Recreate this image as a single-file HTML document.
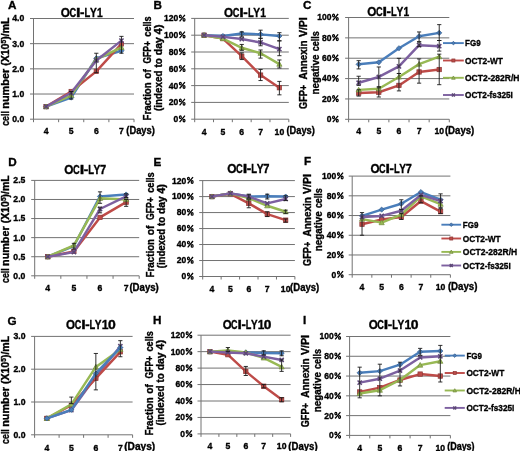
<!DOCTYPE html>
<html><head><meta charset="utf-8"><style>
html,body{margin:0;padding:0;background:#fff;width:520px;height:451px;overflow:hidden}
svg{display:block;filter:blur(0.35px)}
text{font-family:"Liberation Sans", sans-serif;font-weight:bold;fill:#000;stroke:#000;stroke-width:0.35px;white-space:pre}
</style></head><body>
<svg width="520" height="451" viewBox="0 0 520 451">
<rect width="520" height="451" fill="#fff"/>
<line x1="30.00" y1="94.03" x2="134.00" y2="94.03" stroke="#727272" stroke-width="1"/>
<line x1="30.00" y1="68.85" x2="134.00" y2="68.85" stroke="#727272" stroke-width="1"/>
<line x1="30.00" y1="43.67" x2="134.00" y2="43.67" stroke="#727272" stroke-width="1"/>
<line x1="30.00" y1="18.50" x2="134.00" y2="18.50" stroke="#727272" stroke-width="1"/>
<line x1="33.50" y1="18.50" x2="33.50" y2="119.20" stroke="#727272" stroke-width="1"/>
<line x1="30.00" y1="119.20" x2="134.00" y2="119.20" stroke="#727272" stroke-width="1"/>
<line x1="33.50" y1="119.20" x2="33.50" y2="122.20" stroke="#727272" stroke-width="1"/>
<line x1="58.62" y1="119.20" x2="58.62" y2="122.20" stroke="#727272" stroke-width="1"/>
<line x1="83.75" y1="119.20" x2="83.75" y2="122.20" stroke="#727272" stroke-width="1"/>
<line x1="108.88" y1="119.20" x2="108.88" y2="122.20" stroke="#727272" stroke-width="1"/>
<line x1="134.00" y1="119.20" x2="134.00" y2="122.20" stroke="#727272" stroke-width="1"/>
<text x="24.30" y="122.10" font-size="9.0" text-anchor="end" textLength="12.04" lengthAdjust="spacingAndGlyphs">0.0</text>
<text x="24.30" y="96.93" font-size="9.0" text-anchor="end" textLength="12.04" lengthAdjust="spacingAndGlyphs">1.0</text>
<text x="24.30" y="71.75" font-size="9.0" text-anchor="end" textLength="12.04" lengthAdjust="spacingAndGlyphs">2.0</text>
<text x="24.30" y="46.57" font-size="9.0" text-anchor="end" textLength="12.04" lengthAdjust="spacingAndGlyphs">3.0</text>
<text x="24.30" y="21.40" font-size="9.0" text-anchor="end" textLength="12.04" lengthAdjust="spacingAndGlyphs">4.0</text>
<text x="46.06" y="134.20" font-size="9.0" text-anchor="middle" textLength="4.82" lengthAdjust="spacingAndGlyphs">4</text>
<text x="71.19" y="134.20" font-size="9.0" text-anchor="middle" textLength="4.82" lengthAdjust="spacingAndGlyphs">5</text>
<text x="96.31" y="134.20" font-size="9.0" text-anchor="middle" textLength="4.82" lengthAdjust="spacingAndGlyphs">6</text>
<text x="121.44" y="134.20" font-size="9.0" text-anchor="middle" textLength="4.82" lengthAdjust="spacingAndGlyphs">7</text>
<text x="126.30" y="133.60" font-size="10" textLength="28.50" lengthAdjust="spacingAndGlyphs">(Days)</text>
<polyline points="46.06,106.61 71.19,97.55 96.31,58.28 121.44,50.72" fill="none" stroke="#4a7ebb" stroke-width="2.45" stroke-linejoin="round"/>
<path d="M46.06,104.01L48.66,106.61L46.06,109.21L43.46,106.61Z" fill="#4a7ebb" stroke="#385d8a" stroke-width="0.7"/>
<path d="M71.19,94.95L73.79,97.55L71.19,100.15L68.59,97.55Z" fill="#4a7ebb" stroke="#385d8a" stroke-width="0.7"/>
<path d="M96.31,55.68L98.91,58.28L96.31,60.88L93.71,58.28Z" fill="#4a7ebb" stroke="#385d8a" stroke-width="0.7"/>
<path d="M121.44,48.12L124.04,50.72L121.44,53.32L118.84,50.72Z" fill="#4a7ebb" stroke="#385d8a" stroke-width="0.7"/>
<polyline points="46.06,106.61 71.19,91.51 96.31,71.37 121.44,43.93" fill="none" stroke="#be4b48" stroke-width="2.45" stroke-linejoin="round"/>
<rect x="43.86" y="104.41" width="4.40" height="4.40" fill="#be4b48" stroke="#8c3836" stroke-width="0.7"/>
<rect x="68.99" y="89.31" width="4.40" height="4.40" fill="#be4b48" stroke="#8c3836" stroke-width="0.7"/>
<rect x="94.11" y="69.17" width="4.40" height="4.40" fill="#be4b48" stroke="#8c3836" stroke-width="0.7"/>
<rect x="119.24" y="41.73" width="4.40" height="4.40" fill="#be4b48" stroke="#8c3836" stroke-width="0.7"/>
<polyline points="46.06,106.61 71.19,95.28 96.31,59.28 121.44,47.45" fill="none" stroke="#98b954" stroke-width="2.45" stroke-linejoin="round"/>
<path d="M46.06,104.01L48.66,108.69L43.46,108.69Z" fill="#98b954" stroke="#71893f" stroke-width="0.7"/>
<path d="M71.19,92.68L73.79,97.36L68.59,97.36Z" fill="#98b954" stroke="#71893f" stroke-width="0.7"/>
<path d="M96.31,56.68L98.91,61.36L93.71,61.36Z" fill="#98b954" stroke="#71893f" stroke-width="0.7"/>
<path d="M121.44,44.85L124.04,49.53L118.84,49.53Z" fill="#98b954" stroke="#71893f" stroke-width="0.7"/>
<polyline points="46.06,106.61 71.19,92.77 96.31,60.54 121.44,40.65" fill="none" stroke="#7d60a0" stroke-width="2.45" stroke-linejoin="round"/>
<path d="M43.96,104.51L48.16,108.71M48.16,104.51L43.96,108.71" stroke="#5c4776" stroke-width="1.5"/>
<path d="M69.09,90.67L73.29,94.87M73.29,90.67L69.09,94.87" stroke="#5c4776" stroke-width="1.5"/>
<path d="M94.21,58.44L98.41,62.64M98.41,58.44L94.21,62.64" stroke="#5c4776" stroke-width="1.5"/>
<path d="M119.34,38.55L123.54,42.75M123.54,38.55L119.34,42.75" stroke="#5c4776" stroke-width="1.5"/>
<path d="M71.19,99.06V91.51M69.09,99.06h4.2M69.09,91.51h4.2" stroke="#1a1a1a" stroke-width="0.9" fill="none"/>
<path d="M96.31,72.63V53.24M94.21,72.63h4.2M94.21,53.24h4.2" stroke="#1a1a1a" stroke-width="0.9" fill="none"/>
<path d="M121.44,53.24V36.37M119.34,53.24h4.2M119.34,36.37h4.2" stroke="#1a1a1a" stroke-width="0.9" fill="none"/>
<text transform="translate(60.82,16.60) scale(0.948,1)" font-size="12.4">O</text>
<text transform="translate(69.50,16.60) scale(0.745,1)" font-size="12.4">C</text>
<text transform="translate(76.10,16.60) scale(1.307,1)" font-size="12.4">I</text>
<text transform="translate(80.11,16.60) scale(1.080,1)" font-size="12.4">-</text>
<text transform="translate(84.62,16.60) scale(0.757,1)" font-size="12.4">L</text>
<text transform="translate(89.90,16.60) scale(0.820,1)" font-size="12.4">Y</text>
<text transform="translate(97.08,16.60) scale(0.827,1)" font-size="12.4">1</text>
<text x="8.00" y="8.70" font-size="11.7">A</text>
<line x1="191.20" y1="102.40" x2="288.80" y2="102.40" stroke="#727272" stroke-width="1"/>
<line x1="191.20" y1="85.60" x2="288.80" y2="85.60" stroke="#727272" stroke-width="1"/>
<line x1="191.20" y1="68.80" x2="288.80" y2="68.80" stroke="#727272" stroke-width="1"/>
<line x1="191.20" y1="52.00" x2="288.80" y2="52.00" stroke="#727272" stroke-width="1"/>
<line x1="191.20" y1="35.20" x2="288.80" y2="35.20" stroke="#727272" stroke-width="1"/>
<line x1="191.20" y1="18.40" x2="288.80" y2="18.40" stroke="#727272" stroke-width="1"/>
<line x1="194.70" y1="18.40" x2="194.70" y2="119.20" stroke="#727272" stroke-width="1"/>
<line x1="191.20" y1="119.20" x2="288.80" y2="119.20" stroke="#727272" stroke-width="1"/>
<line x1="194.70" y1="119.20" x2="194.70" y2="122.20" stroke="#727272" stroke-width="1"/>
<line x1="213.52" y1="119.20" x2="213.52" y2="122.20" stroke="#727272" stroke-width="1"/>
<line x1="232.34" y1="119.20" x2="232.34" y2="122.20" stroke="#727272" stroke-width="1"/>
<line x1="251.16" y1="119.20" x2="251.16" y2="122.20" stroke="#727272" stroke-width="1"/>
<line x1="269.98" y1="119.20" x2="269.98" y2="122.20" stroke="#727272" stroke-width="1"/>
<line x1="288.80" y1="119.20" x2="288.80" y2="122.20" stroke="#727272" stroke-width="1"/>
<path d="M179.60,122.10L184.90,115.70" stroke="#000" stroke-width="1.3" fill="none"/><ellipse cx="180.35" cy="117.20" rx="0.95" ry="1.3" stroke="#000" stroke-width="1.2" fill="none"/><ellipse cx="184.05" cy="120.60" rx="0.95" ry="1.3" stroke="#000" stroke-width="1.2" fill="none"/>
<text x="178.20" y="122.10" font-size="9.0" text-anchor="end" textLength="4.75" lengthAdjust="spacingAndGlyphs">0</text>
<path d="M179.60,105.30L184.90,98.90" stroke="#000" stroke-width="1.3" fill="none"/><ellipse cx="180.35" cy="100.40" rx="0.95" ry="1.3" stroke="#000" stroke-width="1.2" fill="none"/><ellipse cx="184.05" cy="103.80" rx="0.95" ry="1.3" stroke="#000" stroke-width="1.2" fill="none"/>
<text x="178.20" y="105.30" font-size="9.0" text-anchor="end" textLength="9.50" lengthAdjust="spacingAndGlyphs">20</text>
<path d="M179.60,88.50L184.90,82.10" stroke="#000" stroke-width="1.3" fill="none"/><ellipse cx="180.35" cy="83.60" rx="0.95" ry="1.3" stroke="#000" stroke-width="1.2" fill="none"/><ellipse cx="184.05" cy="87.00" rx="0.95" ry="1.3" stroke="#000" stroke-width="1.2" fill="none"/>
<text x="178.20" y="88.50" font-size="9.0" text-anchor="end" textLength="9.50" lengthAdjust="spacingAndGlyphs">40</text>
<path d="M179.60,71.70L184.90,65.30" stroke="#000" stroke-width="1.3" fill="none"/><ellipse cx="180.35" cy="66.80" rx="0.95" ry="1.3" stroke="#000" stroke-width="1.2" fill="none"/><ellipse cx="184.05" cy="70.20" rx="0.95" ry="1.3" stroke="#000" stroke-width="1.2" fill="none"/>
<text x="178.20" y="71.70" font-size="9.0" text-anchor="end" textLength="9.50" lengthAdjust="spacingAndGlyphs">60</text>
<path d="M179.60,54.90L184.90,48.50" stroke="#000" stroke-width="1.3" fill="none"/><ellipse cx="180.35" cy="50.00" rx="0.95" ry="1.3" stroke="#000" stroke-width="1.2" fill="none"/><ellipse cx="184.05" cy="53.40" rx="0.95" ry="1.3" stroke="#000" stroke-width="1.2" fill="none"/>
<text x="178.20" y="54.90" font-size="9.0" text-anchor="end" textLength="9.50" lengthAdjust="spacingAndGlyphs">80</text>
<path d="M179.60,38.10L184.90,31.70" stroke="#000" stroke-width="1.3" fill="none"/><ellipse cx="180.35" cy="33.20" rx="0.95" ry="1.3" stroke="#000" stroke-width="1.2" fill="none"/><ellipse cx="184.05" cy="36.60" rx="0.95" ry="1.3" stroke="#000" stroke-width="1.2" fill="none"/>
<text x="178.20" y="38.10" font-size="9.0" text-anchor="end" textLength="14.25" lengthAdjust="spacingAndGlyphs">100</text>
<path d="M179.60,21.30L184.90,14.90" stroke="#000" stroke-width="1.3" fill="none"/><ellipse cx="180.35" cy="16.40" rx="0.95" ry="1.3" stroke="#000" stroke-width="1.2" fill="none"/><ellipse cx="184.05" cy="19.80" rx="0.95" ry="1.3" stroke="#000" stroke-width="1.2" fill="none"/>
<text x="178.20" y="21.30" font-size="9.0" text-anchor="end" textLength="14.25" lengthAdjust="spacingAndGlyphs">120</text>
<text x="204.11" y="134.60" font-size="9.0" text-anchor="middle" textLength="4.82" lengthAdjust="spacingAndGlyphs">4</text>
<text x="222.93" y="134.60" font-size="9.0" text-anchor="middle" textLength="4.82" lengthAdjust="spacingAndGlyphs">5</text>
<text x="241.75" y="134.60" font-size="9.0" text-anchor="middle" textLength="4.82" lengthAdjust="spacingAndGlyphs">6</text>
<text x="260.57" y="134.60" font-size="9.0" text-anchor="middle" textLength="4.82" lengthAdjust="spacingAndGlyphs">7</text>
<text x="279.39" y="134.60" font-size="9.0" text-anchor="middle" textLength="9.64" lengthAdjust="spacingAndGlyphs">10</text>
<text x="286.50" y="133.80" font-size="10" textLength="28.30" lengthAdjust="spacingAndGlyphs">(Days)</text>
<polyline points="204.11,35.20 222.93,36.04 241.75,33.52 260.57,34.36 279.39,36.04" fill="none" stroke="#4a7ebb" stroke-width="2.45" stroke-linejoin="round"/>
<path d="M204.11,32.60L206.71,35.20L204.11,37.80L201.51,35.20Z" fill="#4a7ebb" stroke="#385d8a" stroke-width="0.7"/>
<path d="M222.93,33.44L225.53,36.04L222.93,38.64L220.33,36.04Z" fill="#4a7ebb" stroke="#385d8a" stroke-width="0.7"/>
<path d="M241.75,30.92L244.35,33.52L241.75,36.12L239.15,33.52Z" fill="#4a7ebb" stroke="#385d8a" stroke-width="0.7"/>
<path d="M260.57,31.76L263.17,34.36L260.57,36.96L257.97,34.36Z" fill="#4a7ebb" stroke="#385d8a" stroke-width="0.7"/>
<path d="M279.39,33.44L281.99,36.04L279.39,38.64L276.79,36.04Z" fill="#4a7ebb" stroke="#385d8a" stroke-width="0.7"/>
<polyline points="204.11,35.20 222.93,38.56 241.75,56.20 260.57,75.10 279.39,87.70" fill="none" stroke="#be4b48" stroke-width="2.45" stroke-linejoin="round"/>
<rect x="201.91" y="33.00" width="4.40" height="4.40" fill="#be4b48" stroke="#8c3836" stroke-width="0.7"/>
<rect x="220.73" y="36.36" width="4.40" height="4.40" fill="#be4b48" stroke="#8c3836" stroke-width="0.7"/>
<rect x="239.55" y="54.00" width="4.40" height="4.40" fill="#be4b48" stroke="#8c3836" stroke-width="0.7"/>
<rect x="258.37" y="72.90" width="4.40" height="4.40" fill="#be4b48" stroke="#8c3836" stroke-width="0.7"/>
<rect x="277.19" y="85.50" width="4.40" height="4.40" fill="#be4b48" stroke="#8c3836" stroke-width="0.7"/>
<polyline points="204.11,35.20 222.93,38.56 241.75,47.80 260.57,53.26 279.39,64.18" fill="none" stroke="#98b954" stroke-width="2.45" stroke-linejoin="round"/>
<path d="M204.11,32.60L206.71,37.28L201.51,37.28Z" fill="#98b954" stroke="#71893f" stroke-width="0.7"/>
<path d="M222.93,35.96L225.53,40.64L220.33,40.64Z" fill="#98b954" stroke="#71893f" stroke-width="0.7"/>
<path d="M241.75,45.20L244.35,49.88L239.15,49.88Z" fill="#98b954" stroke="#71893f" stroke-width="0.7"/>
<path d="M260.57,50.66L263.17,55.34L257.97,55.34Z" fill="#98b954" stroke="#71893f" stroke-width="0.7"/>
<path d="M279.39,61.58L281.99,66.26L276.79,66.26Z" fill="#98b954" stroke="#71893f" stroke-width="0.7"/>
<polyline points="204.11,35.20 222.93,36.88 241.75,39.06 260.57,42.42 279.39,49.06" fill="none" stroke="#7d60a0" stroke-width="2.45" stroke-linejoin="round"/>
<path d="M202.01,33.10L206.21,37.30M206.21,33.10L202.01,37.30" stroke="#5c4776" stroke-width="1.5"/>
<path d="M220.83,34.78L225.03,38.98M225.03,34.78L220.83,38.98" stroke="#5c4776" stroke-width="1.5"/>
<path d="M239.65,36.96L243.85,41.16M243.85,36.96L239.65,41.16" stroke="#5c4776" stroke-width="1.5"/>
<path d="M258.47,40.32L262.67,44.52M262.67,40.32L258.47,44.52" stroke="#5c4776" stroke-width="1.5"/>
<path d="M277.29,46.96L281.49,51.16M281.49,46.96L277.29,51.16" stroke="#5c4776" stroke-width="1.5"/>
<path d="M241.75,59.56V52.84M239.65,59.56h4.2M239.65,52.84h4.2" stroke="#1a1a1a" stroke-width="0.9" fill="none"/>
<path d="M241.75,36.88V31.84M239.65,36.88h4.2M239.65,31.84h4.2" stroke="#1a1a1a" stroke-width="0.9" fill="none"/>
<path d="M241.75,50.32V44.44M239.65,50.32h4.2M239.65,44.44h4.2" stroke="#1a1a1a" stroke-width="0.9" fill="none"/>
<path d="M260.57,38.31V30.16M258.47,38.31h4.2M258.47,30.16h4.2" stroke="#1a1a1a" stroke-width="0.9" fill="none"/>
<path d="M260.57,45.78V38.31M258.47,45.78h4.2M258.47,38.31h4.2" stroke="#1a1a1a" stroke-width="0.9" fill="none"/>
<path d="M260.57,80.56V69.47M258.47,80.56h4.2M258.47,69.47h4.2" stroke="#1a1a1a" stroke-width="0.9" fill="none"/>
<path d="M260.57,58.13V49.98M258.47,58.13h4.2M258.47,49.98h4.2" stroke="#1a1a1a" stroke-width="0.9" fill="none"/>
<path d="M279.39,40.83V32.68M277.29,40.83h4.2M277.29,32.68h4.2" stroke="#1a1a1a" stroke-width="0.9" fill="none"/>
<path d="M279.39,55.70V40.83M277.29,55.70h4.2M277.29,40.83h4.2" stroke="#1a1a1a" stroke-width="0.9" fill="none"/>
<path d="M279.39,94.84V81.40M277.29,94.84h4.2M277.29,81.40h4.2" stroke="#1a1a1a" stroke-width="0.9" fill="none"/>
<path d="M279.39,67.96V59.98M277.29,67.96h4.2M277.29,59.98h4.2" stroke="#1a1a1a" stroke-width="0.9" fill="none"/>
<text transform="translate(224.02,16.60) scale(0.950,1)" font-size="12.4">O</text>
<text transform="translate(232.72,16.60) scale(0.747,1)" font-size="12.4">C</text>
<text transform="translate(239.33,16.60) scale(1.310,1)" font-size="12.4">I</text>
<text transform="translate(243.35,16.60) scale(1.082,1)" font-size="12.4">-</text>
<text transform="translate(247.88,16.60) scale(0.759,1)" font-size="12.4">L</text>
<text transform="translate(253.16,16.60) scale(0.822,1)" font-size="12.4">Y</text>
<text transform="translate(260.37,16.60) scale(0.829,1)" font-size="12.4">1</text>
<text x="153.60" y="8.90" font-size="11.7">B</text>
<line x1="345.10" y1="98.94" x2="449.30" y2="98.94" stroke="#727272" stroke-width="1"/>
<line x1="345.10" y1="78.58" x2="449.30" y2="78.58" stroke="#727272" stroke-width="1"/>
<line x1="345.10" y1="58.22" x2="449.30" y2="58.22" stroke="#727272" stroke-width="1"/>
<line x1="345.10" y1="37.86" x2="449.30" y2="37.86" stroke="#727272" stroke-width="1"/>
<line x1="345.10" y1="17.50" x2="449.30" y2="17.50" stroke="#727272" stroke-width="1"/>
<line x1="348.60" y1="17.50" x2="348.60" y2="119.30" stroke="#727272" stroke-width="1"/>
<line x1="345.10" y1="119.30" x2="449.30" y2="119.30" stroke="#727272" stroke-width="1"/>
<line x1="348.60" y1="119.30" x2="348.60" y2="122.30" stroke="#727272" stroke-width="1"/>
<line x1="368.74" y1="119.30" x2="368.74" y2="122.30" stroke="#727272" stroke-width="1"/>
<line x1="388.88" y1="119.30" x2="388.88" y2="122.30" stroke="#727272" stroke-width="1"/>
<line x1="409.02" y1="119.30" x2="409.02" y2="122.30" stroke="#727272" stroke-width="1"/>
<line x1="429.16" y1="119.30" x2="429.16" y2="122.30" stroke="#727272" stroke-width="1"/>
<line x1="449.30" y1="119.30" x2="449.30" y2="122.30" stroke="#727272" stroke-width="1"/>
<path d="M332.80,122.20L338.10,115.80" stroke="#000" stroke-width="1.3" fill="none"/><ellipse cx="333.55" cy="117.30" rx="0.95" ry="1.3" stroke="#000" stroke-width="1.2" fill="none"/><ellipse cx="337.25" cy="120.70" rx="0.95" ry="1.3" stroke="#000" stroke-width="1.2" fill="none"/>
<text x="331.40" y="122.20" font-size="9.0" text-anchor="end" textLength="4.75" lengthAdjust="spacingAndGlyphs">0</text>
<path d="M332.80,101.84L338.10,95.44" stroke="#000" stroke-width="1.3" fill="none"/><ellipse cx="333.55" cy="96.94" rx="0.95" ry="1.3" stroke="#000" stroke-width="1.2" fill="none"/><ellipse cx="337.25" cy="100.34" rx="0.95" ry="1.3" stroke="#000" stroke-width="1.2" fill="none"/>
<text x="331.40" y="101.84" font-size="9.0" text-anchor="end" textLength="9.50" lengthAdjust="spacingAndGlyphs">20</text>
<path d="M332.80,81.48L338.10,75.08" stroke="#000" stroke-width="1.3" fill="none"/><ellipse cx="333.55" cy="76.58" rx="0.95" ry="1.3" stroke="#000" stroke-width="1.2" fill="none"/><ellipse cx="337.25" cy="79.98" rx="0.95" ry="1.3" stroke="#000" stroke-width="1.2" fill="none"/>
<text x="331.40" y="81.48" font-size="9.0" text-anchor="end" textLength="9.50" lengthAdjust="spacingAndGlyphs">40</text>
<path d="M332.80,61.12L338.10,54.72" stroke="#000" stroke-width="1.3" fill="none"/><ellipse cx="333.55" cy="56.22" rx="0.95" ry="1.3" stroke="#000" stroke-width="1.2" fill="none"/><ellipse cx="337.25" cy="59.62" rx="0.95" ry="1.3" stroke="#000" stroke-width="1.2" fill="none"/>
<text x="331.40" y="61.12" font-size="9.0" text-anchor="end" textLength="9.50" lengthAdjust="spacingAndGlyphs">60</text>
<path d="M332.80,40.76L338.10,34.36" stroke="#000" stroke-width="1.3" fill="none"/><ellipse cx="333.55" cy="35.86" rx="0.95" ry="1.3" stroke="#000" stroke-width="1.2" fill="none"/><ellipse cx="337.25" cy="39.26" rx="0.95" ry="1.3" stroke="#000" stroke-width="1.2" fill="none"/>
<text x="331.40" y="40.76" font-size="9.0" text-anchor="end" textLength="9.50" lengthAdjust="spacingAndGlyphs">80</text>
<path d="M332.80,20.40L338.10,14.00" stroke="#000" stroke-width="1.3" fill="none"/><ellipse cx="333.55" cy="15.50" rx="0.95" ry="1.3" stroke="#000" stroke-width="1.2" fill="none"/><ellipse cx="337.25" cy="18.90" rx="0.95" ry="1.3" stroke="#000" stroke-width="1.2" fill="none"/>
<text x="331.40" y="20.40" font-size="9.0" text-anchor="end" textLength="14.25" lengthAdjust="spacingAndGlyphs">100</text>
<text x="358.67" y="134.30" font-size="9.0" text-anchor="middle" textLength="4.82" lengthAdjust="spacingAndGlyphs">4</text>
<text x="378.81" y="134.30" font-size="9.0" text-anchor="middle" textLength="4.82" lengthAdjust="spacingAndGlyphs">5</text>
<text x="398.95" y="134.30" font-size="9.0" text-anchor="middle" textLength="4.82" lengthAdjust="spacingAndGlyphs">6</text>
<text x="419.09" y="134.30" font-size="9.0" text-anchor="middle" textLength="4.82" lengthAdjust="spacingAndGlyphs">7</text>
<text x="439.23" y="134.30" font-size="9.0" text-anchor="middle" textLength="9.64" lengthAdjust="spacingAndGlyphs">10</text>
<text x="444.90" y="133.60" font-size="10" textLength="29.40" lengthAdjust="spacingAndGlyphs">(Days)</text>
<polyline points="358.67,64.33 378.81,62.29 398.95,48.24 419.09,36.23 439.23,32.87" fill="none" stroke="#4a7ebb" stroke-width="2.45" stroke-linejoin="round"/>
<path d="M358.67,61.73L361.27,64.33L358.67,66.93L356.07,64.33Z" fill="#4a7ebb" stroke="#385d8a" stroke-width="0.7"/>
<path d="M378.81,59.69L381.41,62.29L378.81,64.89L376.21,62.29Z" fill="#4a7ebb" stroke="#385d8a" stroke-width="0.7"/>
<path d="M398.95,45.64L401.55,48.24L398.95,50.84L396.35,48.24Z" fill="#4a7ebb" stroke="#385d8a" stroke-width="0.7"/>
<path d="M419.09,33.63L421.69,36.23L419.09,38.83L416.49,36.23Z" fill="#4a7ebb" stroke="#385d8a" stroke-width="0.7"/>
<path d="M439.23,30.27L441.83,32.87L439.23,35.47L436.63,32.87Z" fill="#4a7ebb" stroke="#385d8a" stroke-width="0.7"/>
<polyline points="358.67,93.04 378.81,92.22 398.95,85.40 419.09,71.96 439.23,69.52" fill="none" stroke="#be4b48" stroke-width="2.45" stroke-linejoin="round"/>
<rect x="356.47" y="90.84" width="4.40" height="4.40" fill="#be4b48" stroke="#8c3836" stroke-width="0.7"/>
<rect x="376.61" y="90.02" width="4.40" height="4.40" fill="#be4b48" stroke="#8c3836" stroke-width="0.7"/>
<rect x="396.75" y="83.20" width="4.40" height="4.40" fill="#be4b48" stroke="#8c3836" stroke-width="0.7"/>
<rect x="416.89" y="69.76" width="4.40" height="4.40" fill="#be4b48" stroke="#8c3836" stroke-width="0.7"/>
<rect x="437.03" y="67.32" width="4.40" height="4.40" fill="#be4b48" stroke="#8c3836" stroke-width="0.7"/>
<polyline points="358.67,89.88 378.81,88.76 398.95,76.95 419.09,64.12 439.23,56.69" fill="none" stroke="#98b954" stroke-width="2.45" stroke-linejoin="round"/>
<path d="M358.67,87.28L361.27,91.96L356.07,91.96Z" fill="#98b954" stroke="#71893f" stroke-width="0.7"/>
<path d="M378.81,86.16L381.41,90.84L376.21,90.84Z" fill="#98b954" stroke="#71893f" stroke-width="0.7"/>
<path d="M398.95,74.35L401.55,79.03L396.35,79.03Z" fill="#98b954" stroke="#71893f" stroke-width="0.7"/>
<path d="M419.09,61.52L421.69,66.20L416.49,66.20Z" fill="#98b954" stroke="#71893f" stroke-width="0.7"/>
<path d="M439.23,54.09L441.83,58.77L436.63,58.77Z" fill="#98b954" stroke="#71893f" stroke-width="0.7"/>
<polyline points="358.67,82.75 378.81,76.95 398.95,66.36 419.09,45.19 439.23,46.21" fill="none" stroke="#7d60a0" stroke-width="2.45" stroke-linejoin="round"/>
<path d="M356.57,80.65L360.77,84.85M360.77,80.65L356.57,84.85" stroke="#5c4776" stroke-width="1.5"/>
<path d="M376.71,74.85L380.91,79.05M380.91,74.85L376.71,79.05" stroke="#5c4776" stroke-width="1.5"/>
<path d="M396.85,64.26L401.05,68.46M401.05,64.26L396.85,68.46" stroke="#5c4776" stroke-width="1.5"/>
<path d="M416.99,43.09L421.19,47.29M421.19,43.09L416.99,47.29" stroke="#5c4776" stroke-width="1.5"/>
<path d="M437.13,44.11L441.33,48.31M441.33,44.11L437.13,48.31" stroke="#5c4776" stroke-width="1.5"/>
<path d="M358.67,68.91V60.66M356.57,68.91h4.2M356.57,60.66h4.2" stroke="#1a1a1a" stroke-width="0.9" fill="none"/>
<path d="M358.67,85.40V76.24M356.57,85.40h4.2M356.57,76.24h4.2" stroke="#1a1a1a" stroke-width="0.9" fill="none"/>
<path d="M358.67,96.09V89.78M356.57,96.09h4.2M356.57,89.78h4.2" stroke="#1a1a1a" stroke-width="0.9" fill="none"/>
<path d="M378.81,86.62V66.97M376.71,86.62h4.2M376.71,66.97h4.2" stroke="#1a1a1a" stroke-width="0.9" fill="none"/>
<path d="M378.81,97.01V87.74M376.71,97.01h4.2M376.71,87.74h4.2" stroke="#1a1a1a" stroke-width="0.9" fill="none"/>
<path d="M398.95,73.49V58.32M396.85,73.49h4.2M396.85,58.32h4.2" stroke="#1a1a1a" stroke-width="0.9" fill="none"/>
<path d="M398.95,90.90V73.49M396.85,90.90h4.2M396.85,73.49h4.2" stroke="#1a1a1a" stroke-width="0.9" fill="none"/>
<path d="M419.09,41.73V31.96M416.99,41.73h4.2M416.99,31.96h4.2" stroke="#1a1a1a" stroke-width="0.9" fill="none"/>
<path d="M419.09,46.72V41.93M416.99,46.72h4.2M416.99,41.93h4.2" stroke="#1a1a1a" stroke-width="0.9" fill="none"/>
<path d="M419.09,83.16V58.93M416.99,83.16h4.2M416.99,58.93h4.2" stroke="#1a1a1a" stroke-width="0.9" fill="none"/>
<path d="M439.23,40.51V24.63M437.13,40.51h4.2M437.13,24.63h4.2" stroke="#1a1a1a" stroke-width="0.9" fill="none"/>
<path d="M439.23,51.09V40.51M437.13,51.09h4.2M437.13,40.51h4.2" stroke="#1a1a1a" stroke-width="0.9" fill="none"/>
<path d="M439.23,84.69V54.15M437.13,84.69h4.2M437.13,54.15h4.2" stroke="#1a1a1a" stroke-width="0.9" fill="none"/>
<text transform="translate(367.32,16.40) scale(0.948,1)" font-size="12.4">O</text>
<text transform="translate(376.00,16.40) scale(0.745,1)" font-size="12.4">C</text>
<text transform="translate(382.60,16.40) scale(1.307,1)" font-size="12.4">I</text>
<text transform="translate(386.61,16.40) scale(1.080,1)" font-size="12.4">-</text>
<text transform="translate(391.12,16.40) scale(0.757,1)" font-size="12.4">L</text>
<text transform="translate(396.40,16.40) scale(0.820,1)" font-size="12.4">Y</text>
<text transform="translate(403.58,16.40) scale(0.827,1)" font-size="12.4">1</text>
<text x="303.00" y="8.50" font-size="11.7">C</text>
<line x1="31.20" y1="256.72" x2="139.20" y2="256.72" stroke="#727272" stroke-width="1"/>
<line x1="31.20" y1="237.64" x2="139.20" y2="237.64" stroke="#727272" stroke-width="1"/>
<line x1="31.20" y1="218.56" x2="139.20" y2="218.56" stroke="#727272" stroke-width="1"/>
<line x1="31.20" y1="199.48" x2="139.20" y2="199.48" stroke="#727272" stroke-width="1"/>
<line x1="31.20" y1="180.40" x2="139.20" y2="180.40" stroke="#727272" stroke-width="1"/>
<line x1="34.70" y1="180.40" x2="34.70" y2="275.80" stroke="#727272" stroke-width="1"/>
<line x1="31.20" y1="275.80" x2="139.20" y2="275.80" stroke="#727272" stroke-width="1"/>
<line x1="34.70" y1="275.80" x2="34.70" y2="278.80" stroke="#727272" stroke-width="1"/>
<line x1="60.83" y1="275.80" x2="60.83" y2="278.80" stroke="#727272" stroke-width="1"/>
<line x1="86.95" y1="275.80" x2="86.95" y2="278.80" stroke="#727272" stroke-width="1"/>
<line x1="113.07" y1="275.80" x2="113.07" y2="278.80" stroke="#727272" stroke-width="1"/>
<line x1="139.20" y1="275.80" x2="139.20" y2="278.80" stroke="#727272" stroke-width="1"/>
<text x="25.40" y="278.70" font-size="9.0" text-anchor="end" textLength="12.04" lengthAdjust="spacingAndGlyphs">0.0</text>
<text x="25.40" y="259.62" font-size="9.0" text-anchor="end" textLength="12.04" lengthAdjust="spacingAndGlyphs">0.5</text>
<text x="25.40" y="240.54" font-size="9.0" text-anchor="end" textLength="12.04" lengthAdjust="spacingAndGlyphs">1.0</text>
<text x="25.40" y="221.46" font-size="9.0" text-anchor="end" textLength="12.04" lengthAdjust="spacingAndGlyphs">1.5</text>
<text x="25.40" y="202.38" font-size="9.0" text-anchor="end" textLength="12.04" lengthAdjust="spacingAndGlyphs">2.0</text>
<text x="25.40" y="183.30" font-size="9.0" text-anchor="end" textLength="12.04" lengthAdjust="spacingAndGlyphs">2.5</text>
<text x="47.76" y="290.90" font-size="9.0" text-anchor="middle" textLength="4.82" lengthAdjust="spacingAndGlyphs">4</text>
<text x="73.89" y="290.90" font-size="9.0" text-anchor="middle" textLength="4.82" lengthAdjust="spacingAndGlyphs">5</text>
<text x="100.01" y="290.90" font-size="9.0" text-anchor="middle" textLength="4.82" lengthAdjust="spacingAndGlyphs">6</text>
<text x="126.14" y="290.90" font-size="9.0" text-anchor="middle" textLength="4.82" lengthAdjust="spacingAndGlyphs">7</text>
<text x="129.40" y="290.60" font-size="10" textLength="29.40" lengthAdjust="spacingAndGlyphs">(Days)</text>
<polyline points="47.76,256.72 73.89,246.04 100.01,196.43 126.14,194.52" fill="none" stroke="#4a7ebb" stroke-width="2.45" stroke-linejoin="round"/>
<path d="M47.76,254.12L50.36,256.72L47.76,259.32L45.16,256.72Z" fill="#4a7ebb" stroke="#385d8a" stroke-width="0.7"/>
<path d="M73.89,243.44L76.49,246.04L73.89,248.64L71.29,246.04Z" fill="#4a7ebb" stroke="#385d8a" stroke-width="0.7"/>
<path d="M100.01,193.83L102.61,196.43L100.01,199.03L97.41,196.43Z" fill="#4a7ebb" stroke="#385d8a" stroke-width="0.7"/>
<path d="M126.14,191.92L128.74,194.52L126.14,197.12L123.54,194.52Z" fill="#4a7ebb" stroke="#385d8a" stroke-width="0.7"/>
<polyline points="47.76,256.72 73.89,251.38 100.01,217.42 126.14,202.15" fill="none" stroke="#be4b48" stroke-width="2.45" stroke-linejoin="round"/>
<rect x="45.56" y="254.52" width="4.40" height="4.40" fill="#be4b48" stroke="#8c3836" stroke-width="0.7"/>
<rect x="71.69" y="249.18" width="4.40" height="4.40" fill="#be4b48" stroke="#8c3836" stroke-width="0.7"/>
<rect x="97.81" y="215.22" width="4.40" height="4.40" fill="#be4b48" stroke="#8c3836" stroke-width="0.7"/>
<rect x="123.94" y="199.95" width="4.40" height="4.40" fill="#be4b48" stroke="#8c3836" stroke-width="0.7"/>
<polyline points="47.76,256.72 73.89,245.27 100.01,198.34 126.14,199.48" fill="none" stroke="#98b954" stroke-width="2.45" stroke-linejoin="round"/>
<path d="M47.76,254.12L50.36,258.80L45.16,258.80Z" fill="#98b954" stroke="#71893f" stroke-width="0.7"/>
<path d="M73.89,242.67L76.49,247.35L71.29,247.35Z" fill="#98b954" stroke="#71893f" stroke-width="0.7"/>
<path d="M100.01,195.74L102.61,200.42L97.41,200.42Z" fill="#98b954" stroke="#71893f" stroke-width="0.7"/>
<path d="M126.14,196.88L128.74,201.56L123.54,201.56Z" fill="#98b954" stroke="#71893f" stroke-width="0.7"/>
<polyline points="47.76,256.72 73.89,252.14 100.01,209.02 126.14,196.43" fill="none" stroke="#7d60a0" stroke-width="2.45" stroke-linejoin="round"/>
<path d="M45.66,254.62L49.86,258.82M49.86,254.62L45.66,258.82" stroke="#5c4776" stroke-width="1.5"/>
<path d="M71.79,250.04L75.99,254.24M75.99,250.04L71.79,254.24" stroke="#5c4776" stroke-width="1.5"/>
<path d="M97.91,206.92L102.11,211.12M102.11,206.92L97.91,211.12" stroke="#5c4776" stroke-width="1.5"/>
<path d="M124.04,194.33L128.24,198.53M128.24,194.33L124.04,198.53" stroke="#5c4776" stroke-width="1.5"/>
<path d="M73.89,249.09V243.36M71.79,249.09h4.2M71.79,243.36h4.2" stroke="#1a1a1a" stroke-width="0.9" fill="none"/>
<path d="M100.01,203.30V191.85M97.91,203.30h4.2M97.91,191.85h4.2" stroke="#1a1a1a" stroke-width="0.9" fill="none"/>
<path d="M100.01,212.84V207.11M97.91,212.84h4.2M97.91,207.11h4.2" stroke="#1a1a1a" stroke-width="0.9" fill="none"/>
<path d="M126.14,206.35V199.48M124.04,206.35h4.2M124.04,199.48h4.2" stroke="#1a1a1a" stroke-width="0.9" fill="none"/>
<path d="M126.14,197.57V193.76M124.04,197.57h4.2M124.04,193.76h4.2" stroke="#1a1a1a" stroke-width="0.9" fill="none"/>
<text transform="translate(64.32,173.50) scale(0.953,1)" font-size="12.4">O</text>
<text transform="translate(73.04,173.50) scale(0.749,1)" font-size="12.4">C</text>
<text transform="translate(79.67,173.50) scale(1.313,1)" font-size="12.4">I</text>
<text transform="translate(83.70,173.50) scale(1.085,1)" font-size="12.4">-</text>
<text transform="translate(88.24,173.50) scale(0.761,1)" font-size="12.4">L</text>
<text transform="translate(93.54,173.50) scale(0.824,1)" font-size="12.4">Y</text>
<text transform="translate(100.12,173.50) scale(0.894,1)" font-size="12.4">7</text>
<text x="8.30" y="165.70" font-size="11.7">D</text>
<line x1="199.20" y1="260.52" x2="294.90" y2="260.52" stroke="#727272" stroke-width="1"/>
<line x1="199.20" y1="244.53" x2="294.90" y2="244.53" stroke="#727272" stroke-width="1"/>
<line x1="199.20" y1="228.55" x2="294.90" y2="228.55" stroke="#727272" stroke-width="1"/>
<line x1="199.20" y1="212.57" x2="294.90" y2="212.57" stroke="#727272" stroke-width="1"/>
<line x1="199.20" y1="196.58" x2="294.90" y2="196.58" stroke="#727272" stroke-width="1"/>
<line x1="199.20" y1="180.60" x2="294.90" y2="180.60" stroke="#727272" stroke-width="1"/>
<line x1="202.70" y1="180.60" x2="202.70" y2="276.50" stroke="#727272" stroke-width="1"/>
<line x1="199.20" y1="276.50" x2="294.90" y2="276.50" stroke="#727272" stroke-width="1"/>
<line x1="202.70" y1="276.50" x2="202.70" y2="279.50" stroke="#727272" stroke-width="1"/>
<line x1="221.14" y1="276.50" x2="221.14" y2="279.50" stroke="#727272" stroke-width="1"/>
<line x1="239.58" y1="276.50" x2="239.58" y2="279.50" stroke="#727272" stroke-width="1"/>
<line x1="258.02" y1="276.50" x2="258.02" y2="279.50" stroke="#727272" stroke-width="1"/>
<line x1="276.46" y1="276.50" x2="276.46" y2="279.50" stroke="#727272" stroke-width="1"/>
<line x1="294.90" y1="276.50" x2="294.90" y2="279.50" stroke="#727272" stroke-width="1"/>
<path d="M187.70,279.40L193.00,273.00" stroke="#000" stroke-width="1.3" fill="none"/><ellipse cx="188.45" cy="274.50" rx="0.95" ry="1.3" stroke="#000" stroke-width="1.2" fill="none"/><ellipse cx="192.15" cy="277.90" rx="0.95" ry="1.3" stroke="#000" stroke-width="1.2" fill="none"/>
<text x="186.30" y="279.40" font-size="9.0" text-anchor="end" textLength="4.75" lengthAdjust="spacingAndGlyphs">0</text>
<path d="M187.70,263.42L193.00,257.02" stroke="#000" stroke-width="1.3" fill="none"/><ellipse cx="188.45" cy="258.52" rx="0.95" ry="1.3" stroke="#000" stroke-width="1.2" fill="none"/><ellipse cx="192.15" cy="261.92" rx="0.95" ry="1.3" stroke="#000" stroke-width="1.2" fill="none"/>
<text x="186.30" y="263.42" font-size="9.0" text-anchor="end" textLength="9.50" lengthAdjust="spacingAndGlyphs">20</text>
<path d="M187.70,247.43L193.00,241.03" stroke="#000" stroke-width="1.3" fill="none"/><ellipse cx="188.45" cy="242.53" rx="0.95" ry="1.3" stroke="#000" stroke-width="1.2" fill="none"/><ellipse cx="192.15" cy="245.93" rx="0.95" ry="1.3" stroke="#000" stroke-width="1.2" fill="none"/>
<text x="186.30" y="247.43" font-size="9.0" text-anchor="end" textLength="9.50" lengthAdjust="spacingAndGlyphs">40</text>
<path d="M187.70,231.45L193.00,225.05" stroke="#000" stroke-width="1.3" fill="none"/><ellipse cx="188.45" cy="226.55" rx="0.95" ry="1.3" stroke="#000" stroke-width="1.2" fill="none"/><ellipse cx="192.15" cy="229.95" rx="0.95" ry="1.3" stroke="#000" stroke-width="1.2" fill="none"/>
<text x="186.30" y="231.45" font-size="9.0" text-anchor="end" textLength="9.50" lengthAdjust="spacingAndGlyphs">60</text>
<path d="M187.70,215.47L193.00,209.07" stroke="#000" stroke-width="1.3" fill="none"/><ellipse cx="188.45" cy="210.57" rx="0.95" ry="1.3" stroke="#000" stroke-width="1.2" fill="none"/><ellipse cx="192.15" cy="213.97" rx="0.95" ry="1.3" stroke="#000" stroke-width="1.2" fill="none"/>
<text x="186.30" y="215.47" font-size="9.0" text-anchor="end" textLength="9.50" lengthAdjust="spacingAndGlyphs">80</text>
<path d="M187.70,199.48L193.00,193.08" stroke="#000" stroke-width="1.3" fill="none"/><ellipse cx="188.45" cy="194.58" rx="0.95" ry="1.3" stroke="#000" stroke-width="1.2" fill="none"/><ellipse cx="192.15" cy="197.98" rx="0.95" ry="1.3" stroke="#000" stroke-width="1.2" fill="none"/>
<text x="186.30" y="199.48" font-size="9.0" text-anchor="end" textLength="14.25" lengthAdjust="spacingAndGlyphs">100</text>
<path d="M187.70,183.50L193.00,177.10" stroke="#000" stroke-width="1.3" fill="none"/><ellipse cx="188.45" cy="178.60" rx="0.95" ry="1.3" stroke="#000" stroke-width="1.2" fill="none"/><ellipse cx="192.15" cy="182.00" rx="0.95" ry="1.3" stroke="#000" stroke-width="1.2" fill="none"/>
<text x="186.30" y="183.50" font-size="9.0" text-anchor="end" textLength="14.25" lengthAdjust="spacingAndGlyphs">120</text>
<text x="211.92" y="291.50" font-size="9.0" text-anchor="middle" textLength="4.82" lengthAdjust="spacingAndGlyphs">4</text>
<text x="230.36" y="291.50" font-size="9.0" text-anchor="middle" textLength="4.82" lengthAdjust="spacingAndGlyphs">5</text>
<text x="248.80" y="291.50" font-size="9.0" text-anchor="middle" textLength="4.82" lengthAdjust="spacingAndGlyphs">6</text>
<text x="267.24" y="291.50" font-size="9.0" text-anchor="middle" textLength="4.82" lengthAdjust="spacingAndGlyphs">7</text>
<text x="285.68" y="291.50" font-size="9.0" text-anchor="middle" textLength="9.64" lengthAdjust="spacingAndGlyphs">10</text>
<text x="290.10" y="290.90" font-size="10" textLength="29.10" lengthAdjust="spacingAndGlyphs">(Days)</text>
<polyline points="211.92,196.58 230.36,193.39 248.80,196.58 267.24,196.18 285.68,196.58" fill="none" stroke="#4a7ebb" stroke-width="2.45" stroke-linejoin="round"/>
<path d="M211.92,193.98L214.52,196.58L211.92,199.18L209.32,196.58Z" fill="#4a7ebb" stroke="#385d8a" stroke-width="0.7"/>
<path d="M230.36,190.79L232.96,193.39L230.36,195.99L227.76,193.39Z" fill="#4a7ebb" stroke="#385d8a" stroke-width="0.7"/>
<path d="M248.80,193.98L251.40,196.58L248.80,199.18L246.20,196.58Z" fill="#4a7ebb" stroke="#385d8a" stroke-width="0.7"/>
<path d="M267.24,193.58L269.84,196.18L267.24,198.78L264.64,196.18Z" fill="#4a7ebb" stroke="#385d8a" stroke-width="0.7"/>
<path d="M285.68,193.98L288.28,196.58L285.68,199.18L283.08,196.58Z" fill="#4a7ebb" stroke="#385d8a" stroke-width="0.7"/>
<polyline points="211.92,196.58 230.36,193.79 248.80,203.38 267.24,214.16 285.68,220.16" fill="none" stroke="#be4b48" stroke-width="2.45" stroke-linejoin="round"/>
<rect x="209.72" y="194.38" width="4.40" height="4.40" fill="#be4b48" stroke="#8c3836" stroke-width="0.7"/>
<rect x="228.16" y="191.59" width="4.40" height="4.40" fill="#be4b48" stroke="#8c3836" stroke-width="0.7"/>
<rect x="246.60" y="201.18" width="4.40" height="4.40" fill="#be4b48" stroke="#8c3836" stroke-width="0.7"/>
<rect x="265.04" y="211.97" width="4.40" height="4.40" fill="#be4b48" stroke="#8c3836" stroke-width="0.7"/>
<rect x="283.48" y="217.96" width="4.40" height="4.40" fill="#be4b48" stroke="#8c3836" stroke-width="0.7"/>
<polyline points="211.92,196.58 230.36,193.39 248.80,198.18 267.24,205.77 285.68,211.77" fill="none" stroke="#98b954" stroke-width="2.45" stroke-linejoin="round"/>
<path d="M211.92,193.98L214.52,198.66L209.32,198.66Z" fill="#98b954" stroke="#71893f" stroke-width="0.7"/>
<path d="M230.36,190.79L232.96,195.47L227.76,195.47Z" fill="#98b954" stroke="#71893f" stroke-width="0.7"/>
<path d="M248.80,195.58L251.40,200.26L246.20,200.26Z" fill="#98b954" stroke="#71893f" stroke-width="0.7"/>
<path d="M267.24,203.17L269.84,207.85L264.64,207.85Z" fill="#98b954" stroke="#71893f" stroke-width="0.7"/>
<path d="M285.68,209.17L288.28,213.85L283.08,213.85Z" fill="#98b954" stroke="#71893f" stroke-width="0.7"/>
<polyline points="211.92,196.58 230.36,193.39 248.80,196.58 267.24,203.38 285.68,198.98" fill="none" stroke="#7d60a0" stroke-width="2.45" stroke-linejoin="round"/>
<path d="M209.82,194.48L214.02,198.68M214.02,194.48L209.82,198.68" stroke="#5c4776" stroke-width="1.5"/>
<path d="M228.26,191.29L232.46,195.49M232.46,191.29L228.26,195.49" stroke="#5c4776" stroke-width="1.5"/>
<path d="M246.70,194.48L250.90,198.68M250.90,194.48L246.70,198.68" stroke="#5c4776" stroke-width="1.5"/>
<path d="M265.14,201.28L269.34,205.48M269.34,201.28L265.14,205.48" stroke="#5c4776" stroke-width="1.5"/>
<path d="M283.58,196.88L287.78,201.08M287.78,196.88L283.58,201.08" stroke="#5c4776" stroke-width="1.5"/>
<path d="M248.80,207.77V199.78M246.70,207.77h4.2M246.70,199.78h4.2" stroke="#1a1a1a" stroke-width="0.9" fill="none"/>
<path d="M248.80,198.18V194.19M246.70,198.18h4.2M246.70,194.19h4.2" stroke="#1a1a1a" stroke-width="0.9" fill="none"/>
<path d="M267.24,216.56V211.77M265.14,216.56h4.2M265.14,211.77h4.2" stroke="#1a1a1a" stroke-width="0.9" fill="none"/>
<path d="M267.24,198.98V194.19M265.14,198.98h4.2M265.14,194.19h4.2" stroke="#1a1a1a" stroke-width="0.9" fill="none"/>
<path d="M285.68,222.16V218.96M283.58,222.16h4.2M283.58,218.96h4.2" stroke="#1a1a1a" stroke-width="0.9" fill="none"/>
<path d="M285.68,200.58V195.78M283.58,200.58h4.2M283.58,195.78h4.2" stroke="#1a1a1a" stroke-width="0.9" fill="none"/>
<path d="M285.68,213.37V210.17M283.58,213.37h4.2M283.58,210.17h4.2" stroke="#1a1a1a" stroke-width="0.9" fill="none"/>
<text transform="translate(227.31,173.40) scale(0.958,1)" font-size="12.4">O</text>
<text transform="translate(236.08,173.40) scale(0.752,1)" font-size="12.4">C</text>
<text transform="translate(242.74,173.40) scale(1.320,1)" font-size="12.4">I</text>
<text transform="translate(246.80,173.40) scale(1.090,1)" font-size="12.4">-</text>
<text transform="translate(251.35,173.40) scale(0.765,1)" font-size="12.4">L</text>
<text transform="translate(256.68,173.40) scale(0.828,1)" font-size="12.4">Y</text>
<text transform="translate(263.29,173.40) scale(0.898,1)" font-size="12.4">7</text>
<text x="153.40" y="165.60" font-size="11.7">E</text>
<line x1="348.70" y1="254.98" x2="450.40" y2="254.98" stroke="#727272" stroke-width="1"/>
<line x1="348.70" y1="235.26" x2="450.40" y2="235.26" stroke="#727272" stroke-width="1"/>
<line x1="348.70" y1="215.54" x2="450.40" y2="215.54" stroke="#727272" stroke-width="1"/>
<line x1="348.70" y1="195.82" x2="450.40" y2="195.82" stroke="#727272" stroke-width="1"/>
<line x1="348.70" y1="176.10" x2="450.40" y2="176.10" stroke="#727272" stroke-width="1"/>
<line x1="352.20" y1="176.10" x2="352.20" y2="274.70" stroke="#727272" stroke-width="1"/>
<line x1="348.70" y1="274.70" x2="450.40" y2="274.70" stroke="#727272" stroke-width="1"/>
<line x1="352.20" y1="274.70" x2="352.20" y2="277.70" stroke="#727272" stroke-width="1"/>
<line x1="371.84" y1="274.70" x2="371.84" y2="277.70" stroke="#727272" stroke-width="1"/>
<line x1="391.48" y1="274.70" x2="391.48" y2="277.70" stroke="#727272" stroke-width="1"/>
<line x1="411.12" y1="274.70" x2="411.12" y2="277.70" stroke="#727272" stroke-width="1"/>
<line x1="430.76" y1="274.70" x2="430.76" y2="277.70" stroke="#727272" stroke-width="1"/>
<line x1="450.40" y1="274.70" x2="450.40" y2="277.70" stroke="#727272" stroke-width="1"/>
<path d="M337.70,277.60L343.00,271.20" stroke="#000" stroke-width="1.3" fill="none"/><ellipse cx="338.45" cy="272.70" rx="0.95" ry="1.3" stroke="#000" stroke-width="1.2" fill="none"/><ellipse cx="342.15" cy="276.10" rx="0.95" ry="1.3" stroke="#000" stroke-width="1.2" fill="none"/>
<text x="336.30" y="277.60" font-size="9.0" text-anchor="end" textLength="4.75" lengthAdjust="spacingAndGlyphs">0</text>
<path d="M337.70,257.88L343.00,251.48" stroke="#000" stroke-width="1.3" fill="none"/><ellipse cx="338.45" cy="252.98" rx="0.95" ry="1.3" stroke="#000" stroke-width="1.2" fill="none"/><ellipse cx="342.15" cy="256.38" rx="0.95" ry="1.3" stroke="#000" stroke-width="1.2" fill="none"/>
<text x="336.30" y="257.88" font-size="9.0" text-anchor="end" textLength="9.50" lengthAdjust="spacingAndGlyphs">20</text>
<path d="M337.70,238.16L343.00,231.76" stroke="#000" stroke-width="1.3" fill="none"/><ellipse cx="338.45" cy="233.26" rx="0.95" ry="1.3" stroke="#000" stroke-width="1.2" fill="none"/><ellipse cx="342.15" cy="236.66" rx="0.95" ry="1.3" stroke="#000" stroke-width="1.2" fill="none"/>
<text x="336.30" y="238.16" font-size="9.0" text-anchor="end" textLength="9.50" lengthAdjust="spacingAndGlyphs">40</text>
<path d="M337.70,218.44L343.00,212.04" stroke="#000" stroke-width="1.3" fill="none"/><ellipse cx="338.45" cy="213.54" rx="0.95" ry="1.3" stroke="#000" stroke-width="1.2" fill="none"/><ellipse cx="342.15" cy="216.94" rx="0.95" ry="1.3" stroke="#000" stroke-width="1.2" fill="none"/>
<text x="336.30" y="218.44" font-size="9.0" text-anchor="end" textLength="9.50" lengthAdjust="spacingAndGlyphs">60</text>
<path d="M337.70,198.72L343.00,192.32" stroke="#000" stroke-width="1.3" fill="none"/><ellipse cx="338.45" cy="193.82" rx="0.95" ry="1.3" stroke="#000" stroke-width="1.2" fill="none"/><ellipse cx="342.15" cy="197.22" rx="0.95" ry="1.3" stroke="#000" stroke-width="1.2" fill="none"/>
<text x="336.30" y="198.72" font-size="9.0" text-anchor="end" textLength="9.50" lengthAdjust="spacingAndGlyphs">80</text>
<path d="M337.70,179.00L343.00,172.60" stroke="#000" stroke-width="1.3" fill="none"/><ellipse cx="338.45" cy="174.10" rx="0.95" ry="1.3" stroke="#000" stroke-width="1.2" fill="none"/><ellipse cx="342.15" cy="177.50" rx="0.95" ry="1.3" stroke="#000" stroke-width="1.2" fill="none"/>
<text x="336.30" y="179.00" font-size="9.0" text-anchor="end" textLength="14.25" lengthAdjust="spacingAndGlyphs">100</text>
<text x="362.02" y="290.20" font-size="9.0" text-anchor="middle" textLength="4.82" lengthAdjust="spacingAndGlyphs">4</text>
<text x="381.66" y="290.20" font-size="9.0" text-anchor="middle" textLength="4.82" lengthAdjust="spacingAndGlyphs">5</text>
<text x="401.30" y="290.20" font-size="9.0" text-anchor="middle" textLength="4.82" lengthAdjust="spacingAndGlyphs">6</text>
<text x="420.94" y="290.20" font-size="9.0" text-anchor="middle" textLength="4.82" lengthAdjust="spacingAndGlyphs">7</text>
<text x="440.58" y="290.20" font-size="9.0" text-anchor="middle" textLength="9.64" lengthAdjust="spacingAndGlyphs">10</text>
<text x="447.90" y="290.20" font-size="10" textLength="29.60" lengthAdjust="spacingAndGlyphs">(Days)</text>
<polyline points="362.02,215.93 381.66,209.62 401.30,203.71 420.94,192.07 440.58,199.76" fill="none" stroke="#4a7ebb" stroke-width="2.45" stroke-linejoin="round"/>
<path d="M362.02,213.33L364.62,215.93L362.02,218.53L359.42,215.93Z" fill="#4a7ebb" stroke="#385d8a" stroke-width="0.7"/>
<path d="M381.66,207.02L384.26,209.62L381.66,212.22L379.06,209.62Z" fill="#4a7ebb" stroke="#385d8a" stroke-width="0.7"/>
<path d="M401.30,201.11L403.90,203.71L401.30,206.31L398.70,203.71Z" fill="#4a7ebb" stroke="#385d8a" stroke-width="0.7"/>
<path d="M420.94,189.47L423.54,192.07L420.94,194.67L418.34,192.07Z" fill="#4a7ebb" stroke="#385d8a" stroke-width="0.7"/>
<path d="M440.58,197.16L443.18,199.76L440.58,202.36L437.98,199.76Z" fill="#4a7ebb" stroke="#385d8a" stroke-width="0.7"/>
<polyline points="362.02,224.22 381.66,219.48 401.30,217.02 420.94,201.05 440.58,211.60" fill="none" stroke="#be4b48" stroke-width="2.45" stroke-linejoin="round"/>
<rect x="359.82" y="222.02" width="4.40" height="4.40" fill="#be4b48" stroke="#8c3836" stroke-width="0.7"/>
<rect x="379.46" y="217.28" width="4.40" height="4.40" fill="#be4b48" stroke="#8c3836" stroke-width="0.7"/>
<rect x="399.10" y="214.82" width="4.40" height="4.40" fill="#be4b48" stroke="#8c3836" stroke-width="0.7"/>
<rect x="418.74" y="198.85" width="4.40" height="4.40" fill="#be4b48" stroke="#8c3836" stroke-width="0.7"/>
<rect x="438.38" y="209.40" width="4.40" height="4.40" fill="#be4b48" stroke="#8c3836" stroke-width="0.7"/>
<polyline points="362.02,219.09 381.66,222.64 401.30,214.55 420.94,196.41 440.58,204.20" fill="none" stroke="#98b954" stroke-width="2.45" stroke-linejoin="round"/>
<path d="M362.02,216.49L364.62,221.17L359.42,221.17Z" fill="#98b954" stroke="#71893f" stroke-width="0.7"/>
<path d="M381.66,220.04L384.26,224.72L379.06,224.72Z" fill="#98b954" stroke="#71893f" stroke-width="0.7"/>
<path d="M401.30,211.95L403.90,216.63L398.70,216.63Z" fill="#98b954" stroke="#71893f" stroke-width="0.7"/>
<path d="M420.94,193.81L423.54,198.49L418.34,198.49Z" fill="#98b954" stroke="#71893f" stroke-width="0.7"/>
<path d="M440.58,201.60L443.18,206.28L437.98,206.28Z" fill="#98b954" stroke="#71893f" stroke-width="0.7"/>
<polyline points="362.02,217.02 381.66,215.93 401.30,210.81 420.94,194.83 440.58,201.05" fill="none" stroke="#7d60a0" stroke-width="2.45" stroke-linejoin="round"/>
<path d="M359.92,214.92L364.12,219.12M364.12,214.92L359.92,219.12" stroke="#5c4776" stroke-width="1.5"/>
<path d="M379.56,213.83L383.76,218.03M383.76,213.83L379.56,218.03" stroke="#5c4776" stroke-width="1.5"/>
<path d="M399.20,208.71L403.40,212.91M403.40,208.71L399.20,212.91" stroke="#5c4776" stroke-width="1.5"/>
<path d="M418.84,192.73L423.04,196.93M423.04,192.73L418.84,196.93" stroke="#5c4776" stroke-width="1.5"/>
<path d="M438.48,198.95L442.68,203.15M442.68,198.95L438.48,203.15" stroke="#5c4776" stroke-width="1.5"/>
<path d="M362.02,235.26V212.58M359.92,235.26h4.2M359.92,212.58h4.2" stroke="#1a1a1a" stroke-width="0.9" fill="none"/>
<path d="M401.30,209.62V199.76M399.20,209.62h4.2M399.20,199.76h4.2" stroke="#1a1a1a" stroke-width="0.9" fill="none"/>
<path d="M401.30,219.48V213.57M399.20,219.48h4.2M399.20,213.57h4.2" stroke="#1a1a1a" stroke-width="0.9" fill="none"/>
<path d="M420.94,202.72V195.82M418.84,202.72h4.2M418.84,195.82h4.2" stroke="#1a1a1a" stroke-width="0.9" fill="none"/>
<path d="M440.58,207.65V193.85M438.48,207.65h4.2M438.48,193.85h4.2" stroke="#1a1a1a" stroke-width="0.9" fill="none"/>
<path d="M440.58,213.57V208.64M438.48,213.57h4.2M438.48,208.64h4.2" stroke="#1a1a1a" stroke-width="0.9" fill="none"/>
<text transform="translate(370.52,173.40) scale(0.937,1)" font-size="12.4">O</text>
<text transform="translate(379.10,173.40) scale(0.736,1)" font-size="12.4">C</text>
<text transform="translate(385.62,173.40) scale(1.291,1)" font-size="12.4">I</text>
<text transform="translate(389.58,173.40) scale(1.067,1)" font-size="12.4">-</text>
<text transform="translate(394.04,173.40) scale(0.748,1)" font-size="12.4">L</text>
<text transform="translate(399.25,173.40) scale(0.810,1)" font-size="12.4">Y</text>
<text transform="translate(405.72,173.40) scale(0.879,1)" font-size="12.4">7</text>
<text x="304.10" y="165.00" font-size="11.7">F</text>
<line x1="31.10" y1="402.00" x2="132.60" y2="402.00" stroke="#727272" stroke-width="1"/>
<line x1="31.10" y1="369.20" x2="132.60" y2="369.20" stroke="#727272" stroke-width="1"/>
<line x1="31.10" y1="336.40" x2="132.60" y2="336.40" stroke="#727272" stroke-width="1"/>
<line x1="34.60" y1="336.40" x2="34.60" y2="434.80" stroke="#727272" stroke-width="1"/>
<line x1="31.10" y1="434.80" x2="132.60" y2="434.80" stroke="#727272" stroke-width="1"/>
<line x1="34.60" y1="434.80" x2="34.60" y2="437.80" stroke="#727272" stroke-width="1"/>
<line x1="59.10" y1="434.80" x2="59.10" y2="437.80" stroke="#727272" stroke-width="1"/>
<line x1="83.60" y1="434.80" x2="83.60" y2="437.80" stroke="#727272" stroke-width="1"/>
<line x1="108.10" y1="434.80" x2="108.10" y2="437.80" stroke="#727272" stroke-width="1"/>
<line x1="132.60" y1="434.80" x2="132.60" y2="437.80" stroke="#727272" stroke-width="1"/>
<text x="25.50" y="437.70" font-size="9.0" text-anchor="end" textLength="12.04" lengthAdjust="spacingAndGlyphs">0.0</text>
<text x="25.50" y="404.90" font-size="9.0" text-anchor="end" textLength="12.04" lengthAdjust="spacingAndGlyphs">1.0</text>
<text x="25.50" y="372.10" font-size="9.0" text-anchor="end" textLength="12.04" lengthAdjust="spacingAndGlyphs">2.0</text>
<text x="25.50" y="339.30" font-size="9.0" text-anchor="end" textLength="12.04" lengthAdjust="spacingAndGlyphs">3.0</text>
<text x="46.85" y="450.60" font-size="9.0" text-anchor="middle" textLength="4.82" lengthAdjust="spacingAndGlyphs">4</text>
<text x="71.35" y="450.60" font-size="9.0" text-anchor="middle" textLength="4.82" lengthAdjust="spacingAndGlyphs">5</text>
<text x="95.85" y="450.60" font-size="9.0" text-anchor="middle" textLength="4.82" lengthAdjust="spacingAndGlyphs">6</text>
<text x="120.35" y="450.60" font-size="9.0" text-anchor="middle" textLength="4.82" lengthAdjust="spacingAndGlyphs">7</text>
<text x="124.20" y="449.60" font-size="10" textLength="31.00" lengthAdjust="spacingAndGlyphs">(Days)</text>
<polyline points="46.85,418.40 71.35,410.20 95.85,376.42 120.35,346.24" fill="none" stroke="#7d60a0" stroke-width="2.45" stroke-linejoin="round"/>
<path d="M44.75,416.30L48.95,420.50M48.95,416.30L44.75,420.50" stroke="#5c4776" stroke-width="1.5"/>
<path d="M69.25,408.10L73.45,412.30M73.45,408.10L69.25,412.30" stroke="#5c4776" stroke-width="1.5"/>
<path d="M93.75,374.32L97.95,378.52M97.95,374.32L93.75,378.52" stroke="#5c4776" stroke-width="1.5"/>
<path d="M118.25,344.14L122.45,348.34M122.45,344.14L118.25,348.34" stroke="#5c4776" stroke-width="1.5"/>
<polyline points="46.85,418.40 71.35,405.28 95.85,378.38 120.35,351.82" fill="none" stroke="#be4b48" stroke-width="2.45" stroke-linejoin="round"/>
<rect x="44.65" y="416.20" width="4.40" height="4.40" fill="#be4b48" stroke="#8c3836" stroke-width="0.7"/>
<rect x="69.15" y="403.08" width="4.40" height="4.40" fill="#be4b48" stroke="#8c3836" stroke-width="0.7"/>
<rect x="93.65" y="376.18" width="4.40" height="4.40" fill="#be4b48" stroke="#8c3836" stroke-width="0.7"/>
<rect x="118.15" y="349.62" width="4.40" height="4.40" fill="#be4b48" stroke="#8c3836" stroke-width="0.7"/>
<polyline points="46.85,418.40 71.35,404.30 95.85,366.90 120.35,349.52" fill="none" stroke="#98b954" stroke-width="2.45" stroke-linejoin="round"/>
<path d="M46.85,415.80L49.45,420.48L44.25,420.48Z" fill="#98b954" stroke="#71893f" stroke-width="0.7"/>
<path d="M71.35,401.70L73.95,406.38L68.75,406.38Z" fill="#98b954" stroke="#71893f" stroke-width="0.7"/>
<path d="M95.85,364.30L98.45,368.98L93.25,368.98Z" fill="#98b954" stroke="#71893f" stroke-width="0.7"/>
<path d="M120.35,346.92L122.95,351.60L117.75,351.60Z" fill="#98b954" stroke="#71893f" stroke-width="0.7"/>
<polyline points="46.85,418.40 71.35,409.87 95.85,373.46 120.35,347.55" fill="none" stroke="#4a7ebb" stroke-width="2.45" stroke-linejoin="round"/>
<path d="M46.85,415.80L49.45,418.40L46.85,421.00L44.25,418.40Z" fill="#4a7ebb" stroke="#385d8a" stroke-width="0.7"/>
<path d="M71.35,407.27L73.95,409.87L71.35,412.47L68.75,409.87Z" fill="#4a7ebb" stroke="#385d8a" stroke-width="0.7"/>
<path d="M95.85,370.86L98.45,373.46L95.85,376.06L93.25,373.46Z" fill="#4a7ebb" stroke="#385d8a" stroke-width="0.7"/>
<path d="M120.35,344.95L122.95,347.55L120.35,350.15L117.75,347.55Z" fill="#4a7ebb" stroke="#385d8a" stroke-width="0.7"/>
<path d="M71.35,403.64V397.08M69.25,403.64h4.2M69.25,397.08h4.2" stroke="#1a1a1a" stroke-width="0.9" fill="none"/>
<path d="M95.85,389.86V353.46M93.75,389.86h4.2M93.75,353.46h4.2" stroke="#1a1a1a" stroke-width="0.9" fill="none"/>
<path d="M120.35,356.74V340.66M118.25,356.74h4.2M118.25,340.66h4.2" stroke="#1a1a1a" stroke-width="0.9" fill="none"/>
<text transform="translate(66.02,329.00) scale(0.940,1)" font-size="12.4">O</text>
<text transform="translate(74.63,329.00) scale(0.738,1)" font-size="12.4">C</text>
<text transform="translate(81.17,329.00) scale(1.296,1)" font-size="12.4">I</text>
<text transform="translate(85.15,329.00) scale(1.071,1)" font-size="12.4">-</text>
<text transform="translate(89.62,329.00) scale(0.751,1)" font-size="12.4">L</text>
<text transform="translate(94.85,329.00) scale(0.813,1)" font-size="12.4">Y</text>
<text transform="translate(101.76,329.00) scale(0.977,1)" font-size="12.4">1</text>
<text transform="translate(108.01,329.00) scale(1.126,1)" font-size="12.4">0</text>
<text x="7.60" y="324.50" font-size="11.7">G</text>
<line x1="197.50" y1="417.45" x2="290.60" y2="417.45" stroke="#727272" stroke-width="1"/>
<line x1="197.50" y1="401.00" x2="290.60" y2="401.00" stroke="#727272" stroke-width="1"/>
<line x1="197.50" y1="384.55" x2="290.60" y2="384.55" stroke="#727272" stroke-width="1"/>
<line x1="197.50" y1="368.10" x2="290.60" y2="368.10" stroke="#727272" stroke-width="1"/>
<line x1="197.50" y1="351.65" x2="290.60" y2="351.65" stroke="#727272" stroke-width="1"/>
<line x1="197.50" y1="335.20" x2="290.60" y2="335.20" stroke="#727272" stroke-width="1"/>
<line x1="201.00" y1="335.20" x2="201.00" y2="433.90" stroke="#727272" stroke-width="1"/>
<line x1="197.50" y1="433.90" x2="290.60" y2="433.90" stroke="#727272" stroke-width="1"/>
<line x1="201.00" y1="433.90" x2="201.00" y2="436.90" stroke="#727272" stroke-width="1"/>
<line x1="218.92" y1="433.90" x2="218.92" y2="436.90" stroke="#727272" stroke-width="1"/>
<line x1="236.84" y1="433.90" x2="236.84" y2="436.90" stroke="#727272" stroke-width="1"/>
<line x1="254.76" y1="433.90" x2="254.76" y2="436.90" stroke="#727272" stroke-width="1"/>
<line x1="272.68" y1="433.90" x2="272.68" y2="436.90" stroke="#727272" stroke-width="1"/>
<line x1="290.60" y1="433.90" x2="290.60" y2="436.90" stroke="#727272" stroke-width="1"/>
<path d="M186.40,436.80L191.70,430.40" stroke="#000" stroke-width="1.3" fill="none"/><ellipse cx="187.15" cy="431.90" rx="0.95" ry="1.3" stroke="#000" stroke-width="1.2" fill="none"/><ellipse cx="190.85" cy="435.30" rx="0.95" ry="1.3" stroke="#000" stroke-width="1.2" fill="none"/>
<text x="185.00" y="436.80" font-size="9.0" text-anchor="end" textLength="4.75" lengthAdjust="spacingAndGlyphs">0</text>
<path d="M186.40,420.35L191.70,413.95" stroke="#000" stroke-width="1.3" fill="none"/><ellipse cx="187.15" cy="415.45" rx="0.95" ry="1.3" stroke="#000" stroke-width="1.2" fill="none"/><ellipse cx="190.85" cy="418.85" rx="0.95" ry="1.3" stroke="#000" stroke-width="1.2" fill="none"/>
<text x="185.00" y="420.35" font-size="9.0" text-anchor="end" textLength="9.50" lengthAdjust="spacingAndGlyphs">20</text>
<path d="M186.40,403.90L191.70,397.50" stroke="#000" stroke-width="1.3" fill="none"/><ellipse cx="187.15" cy="399.00" rx="0.95" ry="1.3" stroke="#000" stroke-width="1.2" fill="none"/><ellipse cx="190.85" cy="402.40" rx="0.95" ry="1.3" stroke="#000" stroke-width="1.2" fill="none"/>
<text x="185.00" y="403.90" font-size="9.0" text-anchor="end" textLength="9.50" lengthAdjust="spacingAndGlyphs">40</text>
<path d="M186.40,387.45L191.70,381.05" stroke="#000" stroke-width="1.3" fill="none"/><ellipse cx="187.15" cy="382.55" rx="0.95" ry="1.3" stroke="#000" stroke-width="1.2" fill="none"/><ellipse cx="190.85" cy="385.95" rx="0.95" ry="1.3" stroke="#000" stroke-width="1.2" fill="none"/>
<text x="185.00" y="387.45" font-size="9.0" text-anchor="end" textLength="9.50" lengthAdjust="spacingAndGlyphs">60</text>
<path d="M186.40,371.00L191.70,364.60" stroke="#000" stroke-width="1.3" fill="none"/><ellipse cx="187.15" cy="366.10" rx="0.95" ry="1.3" stroke="#000" stroke-width="1.2" fill="none"/><ellipse cx="190.85" cy="369.50" rx="0.95" ry="1.3" stroke="#000" stroke-width="1.2" fill="none"/>
<text x="185.00" y="371.00" font-size="9.0" text-anchor="end" textLength="9.50" lengthAdjust="spacingAndGlyphs">80</text>
<path d="M186.40,354.55L191.70,348.15" stroke="#000" stroke-width="1.3" fill="none"/><ellipse cx="187.15" cy="349.65" rx="0.95" ry="1.3" stroke="#000" stroke-width="1.2" fill="none"/><ellipse cx="190.85" cy="353.05" rx="0.95" ry="1.3" stroke="#000" stroke-width="1.2" fill="none"/>
<text x="185.00" y="354.55" font-size="9.0" text-anchor="end" textLength="14.25" lengthAdjust="spacingAndGlyphs">100</text>
<path d="M186.40,338.10L191.70,331.70" stroke="#000" stroke-width="1.3" fill="none"/><ellipse cx="187.15" cy="333.20" rx="0.95" ry="1.3" stroke="#000" stroke-width="1.2" fill="none"/><ellipse cx="190.85" cy="336.60" rx="0.95" ry="1.3" stroke="#000" stroke-width="1.2" fill="none"/>
<text x="185.00" y="338.10" font-size="9.0" text-anchor="end" textLength="14.25" lengthAdjust="spacingAndGlyphs">120</text>
<text x="209.96" y="449.20" font-size="9.0" text-anchor="middle" textLength="4.82" lengthAdjust="spacingAndGlyphs">4</text>
<text x="227.88" y="449.20" font-size="9.0" text-anchor="middle" textLength="4.82" lengthAdjust="spacingAndGlyphs">5</text>
<text x="245.80" y="449.20" font-size="9.0" text-anchor="middle" textLength="4.82" lengthAdjust="spacingAndGlyphs">6</text>
<text x="263.72" y="449.20" font-size="9.0" text-anchor="middle" textLength="4.82" lengthAdjust="spacingAndGlyphs">7</text>
<text x="281.64" y="449.20" font-size="9.0" text-anchor="middle" textLength="9.64" lengthAdjust="spacingAndGlyphs">10</text>
<text x="288.30" y="449.60" font-size="10" textLength="29.30" lengthAdjust="spacingAndGlyphs">(Days)</text>
<polyline points="209.96,351.65 227.88,352.47 245.80,352.47 263.72,352.97 281.64,353.29" fill="none" stroke="#4a7ebb" stroke-width="2.45" stroke-linejoin="round"/>
<path d="M209.96,349.05L212.56,351.65L209.96,354.25L207.36,351.65Z" fill="#4a7ebb" stroke="#385d8a" stroke-width="0.7"/>
<path d="M227.88,349.87L230.48,352.47L227.88,355.07L225.28,352.47Z" fill="#4a7ebb" stroke="#385d8a" stroke-width="0.7"/>
<path d="M245.80,349.87L248.40,352.47L245.80,355.07L243.20,352.47Z" fill="#4a7ebb" stroke="#385d8a" stroke-width="0.7"/>
<path d="M263.72,350.37L266.32,352.97L263.72,355.57L261.12,352.97Z" fill="#4a7ebb" stroke="#385d8a" stroke-width="0.7"/>
<path d="M281.64,350.69L284.24,353.29L281.64,355.89L279.04,353.29Z" fill="#4a7ebb" stroke="#385d8a" stroke-width="0.7"/>
<polyline points="209.96,351.65 227.88,354.69 245.80,371.39 263.72,386.19 281.64,399.60" fill="none" stroke="#be4b48" stroke-width="2.45" stroke-linejoin="round"/>
<rect x="207.76" y="349.45" width="4.40" height="4.40" fill="#be4b48" stroke="#8c3836" stroke-width="0.7"/>
<rect x="225.68" y="352.49" width="4.40" height="4.40" fill="#be4b48" stroke="#8c3836" stroke-width="0.7"/>
<rect x="243.60" y="369.19" width="4.40" height="4.40" fill="#be4b48" stroke="#8c3836" stroke-width="0.7"/>
<rect x="261.52" y="384.00" width="4.40" height="4.40" fill="#be4b48" stroke="#8c3836" stroke-width="0.7"/>
<rect x="279.44" y="397.40" width="4.40" height="4.40" fill="#be4b48" stroke="#8c3836" stroke-width="0.7"/>
<polyline points="209.96,351.65 227.88,350.42 245.80,352.47 263.72,357.90 281.64,366.87" fill="none" stroke="#98b954" stroke-width="2.45" stroke-linejoin="round"/>
<path d="M209.96,349.05L212.56,353.73L207.36,353.73Z" fill="#98b954" stroke="#71893f" stroke-width="0.7"/>
<path d="M227.88,347.82L230.48,352.50L225.28,352.50Z" fill="#98b954" stroke="#71893f" stroke-width="0.7"/>
<path d="M245.80,349.87L248.40,354.55L243.20,354.55Z" fill="#98b954" stroke="#71893f" stroke-width="0.7"/>
<path d="M263.72,355.30L266.32,359.98L261.12,359.98Z" fill="#98b954" stroke="#71893f" stroke-width="0.7"/>
<path d="M281.64,364.27L284.24,368.95L279.04,368.95Z" fill="#98b954" stroke="#71893f" stroke-width="0.7"/>
<polyline points="209.96,351.65 227.88,352.47 245.80,353.29 263.72,356.58 281.64,359.96" fill="none" stroke="#7d60a0" stroke-width="2.45" stroke-linejoin="round"/>
<path d="M207.86,349.55L212.06,353.75M212.06,349.55L207.86,353.75" stroke="#5c4776" stroke-width="1.5"/>
<path d="M225.78,350.37L229.98,354.57M229.98,350.37L225.78,354.57" stroke="#5c4776" stroke-width="1.5"/>
<path d="M243.70,351.19L247.90,355.39M247.90,351.19L243.70,355.39" stroke="#5c4776" stroke-width="1.5"/>
<path d="M261.62,354.48L265.82,358.69M265.82,354.48L261.62,358.69" stroke="#5c4776" stroke-width="1.5"/>
<path d="M279.54,357.86L283.74,362.06M283.74,357.86L279.54,362.06" stroke="#5c4776" stroke-width="1.5"/>
<path d="M227.88,351.65V347.54M225.78,351.65h4.2M225.78,347.54h4.2" stroke="#1a1a1a" stroke-width="0.9" fill="none"/>
<path d="M245.80,375.50V366.45M243.70,375.50h4.2M243.70,366.45h4.2" stroke="#1a1a1a" stroke-width="0.9" fill="none"/>
<path d="M263.72,387.84V384.55M261.62,387.84h4.2M261.62,384.55h4.2" stroke="#1a1a1a" stroke-width="0.9" fill="none"/>
<path d="M263.72,354.94V350.83M261.62,354.94h4.2M261.62,350.83h4.2" stroke="#1a1a1a" stroke-width="0.9" fill="none"/>
<path d="M281.64,371.39V359.88M279.54,371.39h4.2M279.54,359.88h4.2" stroke="#1a1a1a" stroke-width="0.9" fill="none"/>
<path d="M281.64,355.76V350.83M279.54,355.76h4.2M279.54,350.83h4.2" stroke="#1a1a1a" stroke-width="0.9" fill="none"/>
<path d="M281.64,401.82V397.71M279.54,401.82h4.2M279.54,397.71h4.2" stroke="#1a1a1a" stroke-width="0.9" fill="none"/>
<text transform="translate(222.63,329.00) scale(0.923,1)" font-size="12.4">O</text>
<text transform="translate(231.08,329.00) scale(0.725,1)" font-size="12.4">C</text>
<text transform="translate(237.50,329.00) scale(1.272,1)" font-size="12.4">I</text>
<text transform="translate(241.40,329.00) scale(1.051,1)" font-size="12.4">-</text>
<text transform="translate(245.80,329.00) scale(0.737,1)" font-size="12.4">L</text>
<text transform="translate(250.93,329.00) scale(0.798,1)" font-size="12.4">Y</text>
<text transform="translate(257.71,329.00) scale(0.958,1)" font-size="12.4">1</text>
<text transform="translate(263.84,329.00) scale(1.105,1)" font-size="12.4">0</text>
<text x="153.00" y="324.10" font-size="11.7">H</text>
<line x1="346.10" y1="415.62" x2="450.40" y2="415.62" stroke="#727272" stroke-width="1"/>
<line x1="346.10" y1="395.84" x2="450.40" y2="395.84" stroke="#727272" stroke-width="1"/>
<line x1="346.10" y1="376.06" x2="450.40" y2="376.06" stroke="#727272" stroke-width="1"/>
<line x1="346.10" y1="356.28" x2="450.40" y2="356.28" stroke="#727272" stroke-width="1"/>
<line x1="346.10" y1="336.50" x2="450.40" y2="336.50" stroke="#727272" stroke-width="1"/>
<line x1="349.60" y1="336.50" x2="349.60" y2="435.40" stroke="#727272" stroke-width="1"/>
<line x1="346.10" y1="435.40" x2="450.40" y2="435.40" stroke="#727272" stroke-width="1"/>
<line x1="349.60" y1="435.40" x2="349.60" y2="438.40" stroke="#727272" stroke-width="1"/>
<line x1="369.76" y1="435.40" x2="369.76" y2="438.40" stroke="#727272" stroke-width="1"/>
<line x1="389.92" y1="435.40" x2="389.92" y2="438.40" stroke="#727272" stroke-width="1"/>
<line x1="410.08" y1="435.40" x2="410.08" y2="438.40" stroke="#727272" stroke-width="1"/>
<line x1="430.24" y1="435.40" x2="430.24" y2="438.40" stroke="#727272" stroke-width="1"/>
<line x1="450.40" y1="435.40" x2="450.40" y2="438.40" stroke="#727272" stroke-width="1"/>
<path d="M335.10,438.30L340.40,431.90" stroke="#000" stroke-width="1.3" fill="none"/><ellipse cx="335.85" cy="433.40" rx="0.95" ry="1.3" stroke="#000" stroke-width="1.2" fill="none"/><ellipse cx="339.55" cy="436.80" rx="0.95" ry="1.3" stroke="#000" stroke-width="1.2" fill="none"/>
<text x="333.70" y="438.30" font-size="9.0" text-anchor="end" textLength="4.75" lengthAdjust="spacingAndGlyphs">0</text>
<path d="M335.10,418.52L340.40,412.12" stroke="#000" stroke-width="1.3" fill="none"/><ellipse cx="335.85" cy="413.62" rx="0.95" ry="1.3" stroke="#000" stroke-width="1.2" fill="none"/><ellipse cx="339.55" cy="417.02" rx="0.95" ry="1.3" stroke="#000" stroke-width="1.2" fill="none"/>
<text x="333.70" y="418.52" font-size="9.0" text-anchor="end" textLength="9.50" lengthAdjust="spacingAndGlyphs">20</text>
<path d="M335.10,398.74L340.40,392.34" stroke="#000" stroke-width="1.3" fill="none"/><ellipse cx="335.85" cy="393.84" rx="0.95" ry="1.3" stroke="#000" stroke-width="1.2" fill="none"/><ellipse cx="339.55" cy="397.24" rx="0.95" ry="1.3" stroke="#000" stroke-width="1.2" fill="none"/>
<text x="333.70" y="398.74" font-size="9.0" text-anchor="end" textLength="9.50" lengthAdjust="spacingAndGlyphs">40</text>
<path d="M335.10,378.96L340.40,372.56" stroke="#000" stroke-width="1.3" fill="none"/><ellipse cx="335.85" cy="374.06" rx="0.95" ry="1.3" stroke="#000" stroke-width="1.2" fill="none"/><ellipse cx="339.55" cy="377.46" rx="0.95" ry="1.3" stroke="#000" stroke-width="1.2" fill="none"/>
<text x="333.70" y="378.96" font-size="9.0" text-anchor="end" textLength="9.50" lengthAdjust="spacingAndGlyphs">60</text>
<path d="M335.10,359.18L340.40,352.78" stroke="#000" stroke-width="1.3" fill="none"/><ellipse cx="335.85" cy="354.28" rx="0.95" ry="1.3" stroke="#000" stroke-width="1.2" fill="none"/><ellipse cx="339.55" cy="357.68" rx="0.95" ry="1.3" stroke="#000" stroke-width="1.2" fill="none"/>
<text x="333.70" y="359.18" font-size="9.0" text-anchor="end" textLength="9.50" lengthAdjust="spacingAndGlyphs">80</text>
<path d="M335.10,339.40L340.40,333.00" stroke="#000" stroke-width="1.3" fill="none"/><ellipse cx="335.85" cy="334.50" rx="0.95" ry="1.3" stroke="#000" stroke-width="1.2" fill="none"/><ellipse cx="339.55" cy="337.90" rx="0.95" ry="1.3" stroke="#000" stroke-width="1.2" fill="none"/>
<text x="333.70" y="339.40" font-size="9.0" text-anchor="end" textLength="14.25" lengthAdjust="spacingAndGlyphs">100</text>
<text x="359.68" y="450.60" font-size="9.0" text-anchor="middle" textLength="4.82" lengthAdjust="spacingAndGlyphs">4</text>
<text x="379.84" y="450.60" font-size="9.0" text-anchor="middle" textLength="4.82" lengthAdjust="spacingAndGlyphs">5</text>
<text x="400.00" y="450.60" font-size="9.0" text-anchor="middle" textLength="4.82" lengthAdjust="spacingAndGlyphs">6</text>
<text x="420.16" y="450.60" font-size="9.0" text-anchor="middle" textLength="4.82" lengthAdjust="spacingAndGlyphs">7</text>
<text x="440.32" y="450.60" font-size="9.0" text-anchor="middle" textLength="9.64" lengthAdjust="spacingAndGlyphs">10</text>
<text x="447.20" y="449.60" font-size="10" textLength="27.40" lengthAdjust="spacingAndGlyphs">(Days)</text>
<polyline points="359.68,372.80 379.84,371.12 400.00,364.69 420.16,351.83 440.32,351.04" fill="none" stroke="#4a7ebb" stroke-width="2.45" stroke-linejoin="round"/>
<path d="M359.68,370.20L362.28,372.80L359.68,375.40L357.08,372.80Z" fill="#4a7ebb" stroke="#385d8a" stroke-width="0.7"/>
<path d="M379.84,368.51L382.44,371.12L379.84,373.72L377.24,371.12Z" fill="#4a7ebb" stroke="#385d8a" stroke-width="0.7"/>
<path d="M400.00,362.09L402.60,364.69L400.00,367.29L397.40,364.69Z" fill="#4a7ebb" stroke="#385d8a" stroke-width="0.7"/>
<path d="M420.16,349.23L422.76,351.83L420.16,354.43L417.56,351.83Z" fill="#4a7ebb" stroke="#385d8a" stroke-width="0.7"/>
<path d="M440.32,348.44L442.92,351.04L440.32,353.64L437.72,351.04Z" fill="#4a7ebb" stroke="#385d8a" stroke-width="0.7"/>
<polyline points="359.68,391.98 379.84,387.63 400.00,380.02 420.16,374.08 440.32,376.06" fill="none" stroke="#be4b48" stroke-width="2.45" stroke-linejoin="round"/>
<rect x="357.48" y="389.78" width="4.40" height="4.40" fill="#be4b48" stroke="#8c3836" stroke-width="0.7"/>
<rect x="377.64" y="385.43" width="4.40" height="4.40" fill="#be4b48" stroke="#8c3836" stroke-width="0.7"/>
<rect x="397.80" y="377.82" width="4.40" height="4.40" fill="#be4b48" stroke="#8c3836" stroke-width="0.7"/>
<rect x="417.96" y="371.88" width="4.40" height="4.40" fill="#be4b48" stroke="#8c3836" stroke-width="0.7"/>
<rect x="438.12" y="373.86" width="4.40" height="4.40" fill="#be4b48" stroke="#8c3836" stroke-width="0.7"/>
<polyline points="359.68,393.47 379.84,390.20 400.00,380.02 420.16,365.08 440.32,361.23" fill="none" stroke="#98b954" stroke-width="2.45" stroke-linejoin="round"/>
<path d="M359.68,390.87L362.28,395.55L357.08,395.55Z" fill="#98b954" stroke="#71893f" stroke-width="0.7"/>
<path d="M379.84,387.60L382.44,392.28L377.24,392.28Z" fill="#98b954" stroke="#71893f" stroke-width="0.7"/>
<path d="M400.00,377.42L402.60,382.10L397.40,382.10Z" fill="#98b954" stroke="#71893f" stroke-width="0.7"/>
<path d="M420.16,362.48L422.76,367.16L417.56,367.16Z" fill="#98b954" stroke="#71893f" stroke-width="0.7"/>
<path d="M440.32,358.62L442.92,363.31L437.72,363.31Z" fill="#98b954" stroke="#71893f" stroke-width="0.7"/>
<polyline points="359.68,382.59 379.84,378.73 400.00,370.52 420.16,357.47 440.32,356.28" fill="none" stroke="#7d60a0" stroke-width="2.45" stroke-linejoin="round"/>
<path d="M357.58,380.49L361.78,384.69M361.78,380.49L357.58,384.69" stroke="#5c4776" stroke-width="1.5"/>
<path d="M377.74,376.63L381.94,380.83M381.94,376.63L377.74,380.83" stroke="#5c4776" stroke-width="1.5"/>
<path d="M397.90,368.42L402.10,372.62M402.10,368.42L397.90,372.62" stroke="#5c4776" stroke-width="1.5"/>
<path d="M418.06,355.37L422.26,359.57M422.26,355.37L418.06,359.57" stroke="#5c4776" stroke-width="1.5"/>
<path d="M438.22,354.18L442.42,358.38M442.42,354.18L438.22,358.38" stroke="#5c4776" stroke-width="1.5"/>
<path d="M359.68,397.82V367.16M357.58,397.82h4.2M357.58,367.16h4.2" stroke="#1a1a1a" stroke-width="0.9" fill="none"/>
<path d="M379.84,395.84V364.19M377.74,395.84h4.2M377.74,364.19h4.2" stroke="#1a1a1a" stroke-width="0.9" fill="none"/>
<path d="M400.00,385.95V362.21M397.90,385.95h4.2M397.90,362.21h4.2" stroke="#1a1a1a" stroke-width="0.9" fill="none"/>
<path d="M420.16,355.29V348.37M418.06,355.29h4.2M418.06,348.37h4.2" stroke="#1a1a1a" stroke-width="0.9" fill="none"/>
<path d="M440.32,381.99V345.40M438.22,381.99h4.2M438.22,345.40h4.2" stroke="#1a1a1a" stroke-width="0.9" fill="none"/>
<text transform="translate(368.72,328.80) scale(0.940,1)" font-size="12.4">O</text>
<text transform="translate(377.33,328.80) scale(0.738,1)" font-size="12.4">C</text>
<text transform="translate(383.87,328.80) scale(1.296,1)" font-size="12.4">I</text>
<text transform="translate(387.85,328.80) scale(1.071,1)" font-size="12.4">-</text>
<text transform="translate(392.32,328.80) scale(0.751,1)" font-size="12.4">L</text>
<text transform="translate(397.55,328.80) scale(0.813,1)" font-size="12.4">Y</text>
<text transform="translate(404.46,328.80) scale(0.977,1)" font-size="12.4">1</text>
<text transform="translate(410.71,328.80) scale(1.126,1)" font-size="12.4">0</text>
<text x="303.00" y="323.60" font-size="11.7">I</text>
<text transform="translate(9.20,118.44) rotate(-90)" x="0" y="0" font-size="10.2" text-anchor="middle" textLength="14.71" lengthAdjust="spacingAndGlyphs">cell</text>
<text transform="translate(9.20,88.77) rotate(-90)" x="0" y="0" font-size="10.2" text-anchor="middle" textLength="39.84" lengthAdjust="spacingAndGlyphs">number</text>
<text transform="translate(9.20,41.67) rotate(-90)" x="0" y="0" font-size="10.2" text-anchor="middle" textLength="48.34" lengthAdjust="spacingAndGlyphs">(X10<tspan font-size="6.4" dy="-3.4">5</tspan><tspan dy="3.4">)/mL</tspan></text>
<text transform="translate(9.00,275.68) rotate(-90)" x="0" y="0" font-size="10.2" text-anchor="middle" textLength="14.65" lengthAdjust="spacingAndGlyphs">cell</text>
<text transform="translate(9.00,246.14) rotate(-90)" x="0" y="0" font-size="10.2" text-anchor="middle" textLength="39.65" lengthAdjust="spacingAndGlyphs">number</text>
<text transform="translate(9.00,199.26) rotate(-90)" x="0" y="0" font-size="10.2" text-anchor="middle" textLength="48.12" lengthAdjust="spacingAndGlyphs">(X10<tspan font-size="6.4" dy="-3.4">5</tspan><tspan dy="3.4">)/mL</tspan></text>
<text transform="translate(9.10,436.56) rotate(-90)" x="0" y="0" font-size="10.2" text-anchor="middle" textLength="14.69" lengthAdjust="spacingAndGlyphs">cell</text>
<text transform="translate(9.10,406.93) rotate(-90)" x="0" y="0" font-size="10.2" text-anchor="middle" textLength="39.76" lengthAdjust="spacingAndGlyphs">number</text>
<text transform="translate(9.10,359.93) rotate(-90)" x="0" y="0" font-size="10.2" text-anchor="middle" textLength="48.26" lengthAdjust="spacingAndGlyphs">(X10<tspan font-size="6.4" dy="-3.4">5</tspan><tspan dy="3.4">)/mL</tspan></text>
<text transform="translate(150.80,26.55) rotate(-90)" x="0" y="0" font-size="10.2" text-anchor="middle" textLength="20.30" lengthAdjust="spacingAndGlyphs">cells</text>
<text transform="translate(150.80,52.35) rotate(-90)" x="0" y="0" font-size="10.2" text-anchor="middle" textLength="22.50" lengthAdjust="spacingAndGlyphs">GFP+</text>
<text transform="translate(150.80,73.90) rotate(-90)" x="0" y="0" font-size="10.2" text-anchor="middle" textLength="9.60" lengthAdjust="spacingAndGlyphs">of</text>
<text transform="translate(150.80,101.40) rotate(-90)" x="0" y="0" font-size="10.2" text-anchor="middle" textLength="38.20" lengthAdjust="spacingAndGlyphs">Fraction</text>
<text transform="translate(161.60,29.40) rotate(-90)" x="0" y="0" font-size="10.2" text-anchor="middle" textLength="10.00" lengthAdjust="spacingAndGlyphs">4)</text>
<text transform="translate(161.60,46.15) rotate(-90)" x="0" y="0" font-size="10.2" text-anchor="middle" textLength="18.10" lengthAdjust="spacingAndGlyphs">day</text>
<text transform="translate(161.60,62.90) rotate(-90)" x="0" y="0" font-size="10.2" text-anchor="middle" textLength="9.40" lengthAdjust="spacingAndGlyphs">to</text>
<text transform="translate(161.60,90.80) rotate(-90)" x="0" y="0" font-size="10.2" text-anchor="middle" textLength="40.40" lengthAdjust="spacingAndGlyphs">(indexed</text>
<text transform="translate(153.90,182.56) rotate(-90)" x="0" y="0" font-size="10.2" text-anchor="middle" textLength="20.51" lengthAdjust="spacingAndGlyphs">cells</text>
<text transform="translate(153.90,208.63) rotate(-90)" x="0" y="0" font-size="10.2" text-anchor="middle" textLength="22.74" lengthAdjust="spacingAndGlyphs">GFP+</text>
<text transform="translate(153.90,230.41) rotate(-90)" x="0" y="0" font-size="10.2" text-anchor="middle" textLength="9.70" lengthAdjust="spacingAndGlyphs">of</text>
<text transform="translate(153.90,258.20) rotate(-90)" x="0" y="0" font-size="10.2" text-anchor="middle" textLength="38.60" lengthAdjust="spacingAndGlyphs">Fraction</text>
<text transform="translate(165.40,188.87) rotate(-90)" x="0" y="0" font-size="10.2" text-anchor="middle" textLength="9.73" lengthAdjust="spacingAndGlyphs">4)</text>
<text transform="translate(165.40,205.17) rotate(-90)" x="0" y="0" font-size="10.2" text-anchor="middle" textLength="17.62" lengthAdjust="spacingAndGlyphs">day</text>
<text transform="translate(165.40,221.48) rotate(-90)" x="0" y="0" font-size="10.2" text-anchor="middle" textLength="9.15" lengthAdjust="spacingAndGlyphs">to</text>
<text transform="translate(165.40,248.64) rotate(-90)" x="0" y="0" font-size="10.2" text-anchor="middle" textLength="39.33" lengthAdjust="spacingAndGlyphs">(indexed</text>
<text transform="translate(152.60,341.29) rotate(-90)" x="0" y="0" font-size="10.2" text-anchor="middle" textLength="20.38" lengthAdjust="spacingAndGlyphs">cells</text>
<text transform="translate(152.60,367.19) rotate(-90)" x="0" y="0" font-size="10.2" text-anchor="middle" textLength="22.59" lengthAdjust="spacingAndGlyphs">GFP+</text>
<text transform="translate(152.60,388.82) rotate(-90)" x="0" y="0" font-size="10.2" text-anchor="middle" textLength="9.64" lengthAdjust="spacingAndGlyphs">of</text>
<text transform="translate(152.60,416.43) rotate(-90)" x="0" y="0" font-size="10.2" text-anchor="middle" textLength="38.35" lengthAdjust="spacingAndGlyphs">Fraction</text>
<text transform="translate(164.20,344.75) rotate(-90)" x="0" y="0" font-size="10.2" text-anchor="middle" textLength="9.91" lengthAdjust="spacingAndGlyphs">4)</text>
<text transform="translate(164.20,361.35) rotate(-90)" x="0" y="0" font-size="10.2" text-anchor="middle" textLength="17.93" lengthAdjust="spacingAndGlyphs">day</text>
<text transform="translate(164.20,377.94) rotate(-90)" x="0" y="0" font-size="10.2" text-anchor="middle" textLength="9.31" lengthAdjust="spacingAndGlyphs">to</text>
<text transform="translate(164.20,405.59) rotate(-90)" x="0" y="0" font-size="10.2" text-anchor="middle" textLength="40.03" lengthAdjust="spacingAndGlyphs">(indexed</text>
<text transform="translate(306.90,27.15) rotate(-90)" x="0" y="0" font-size="10.2" text-anchor="middle" textLength="19.90" lengthAdjust="spacingAndGlyphs">V/PI</text>
<text transform="translate(306.90,59.90) rotate(-90)" x="0" y="0" font-size="10.2" text-anchor="middle" textLength="39.20" lengthAdjust="spacingAndGlyphs">Annexin</text>
<text transform="translate(306.90,96.85) rotate(-90)" x="0" y="0" font-size="10.2" text-anchor="middle" textLength="24.10" lengthAdjust="spacingAndGlyphs">GFP+</text>
<text transform="translate(319.00,41.20) rotate(-90)" x="0" y="0" font-size="10.2" text-anchor="middle" textLength="20.00" lengthAdjust="spacingAndGlyphs">cells</text>
<text transform="translate(319.00,74.50) rotate(-90)" x="0" y="0" font-size="10.2" text-anchor="middle" textLength="40.20" lengthAdjust="spacingAndGlyphs">negative</text>
<text transform="translate(310.60,183.97) rotate(-90)" x="0" y="0" font-size="10.2" text-anchor="middle" textLength="19.94" lengthAdjust="spacingAndGlyphs">V/PI</text>
<text transform="translate(310.60,216.79) rotate(-90)" x="0" y="0" font-size="10.2" text-anchor="middle" textLength="39.29" lengthAdjust="spacingAndGlyphs">Annexin</text>
<text transform="translate(310.60,253.82) rotate(-90)" x="0" y="0" font-size="10.2" text-anchor="middle" textLength="24.15" lengthAdjust="spacingAndGlyphs">GFP+</text>
<text transform="translate(322.10,198.15) rotate(-90)" x="0" y="0" font-size="10.2" text-anchor="middle" textLength="19.91" lengthAdjust="spacingAndGlyphs">cells</text>
<text transform="translate(322.10,231.30) rotate(-90)" x="0" y="0" font-size="10.2" text-anchor="middle" textLength="40.01" lengthAdjust="spacingAndGlyphs">negative</text>
<text transform="translate(308.80,345.10) rotate(-90)" x="0" y="0" font-size="10.2" text-anchor="middle" textLength="20.01" lengthAdjust="spacingAndGlyphs">V/PI</text>
<text transform="translate(308.80,378.03) rotate(-90)" x="0" y="0" font-size="10.2" text-anchor="middle" textLength="39.41" lengthAdjust="spacingAndGlyphs">Annexin</text>
<text transform="translate(308.80,415.18) rotate(-90)" x="0" y="0" font-size="10.2" text-anchor="middle" textLength="24.23" lengthAdjust="spacingAndGlyphs">GFP+</text>
<text transform="translate(321.30,358.90) rotate(-90)" x="0" y="0" font-size="10.2" text-anchor="middle" textLength="20.00" lengthAdjust="spacingAndGlyphs">cells</text>
<text transform="translate(321.30,392.20) rotate(-90)" x="0" y="0" font-size="10.2" text-anchor="middle" textLength="40.20" lengthAdjust="spacingAndGlyphs">negative</text>
<line x1="443.00" y1="43.10" x2="463.80" y2="43.10" stroke="#4a7ebb" stroke-width="1.9"/>
<path d="M453.40,41.28L455.22,43.10L453.40,44.92L451.58,43.10Z" fill="#4a7ebb" stroke="#385d8a" stroke-width="0.7"/>
<text x="465.00" y="46.30" font-size="9.8" textLength="15.60" lengthAdjust="spacingAndGlyphs">FG9</text>
<line x1="443.00" y1="60.50" x2="463.80" y2="60.50" stroke="#be4b48" stroke-width="1.9"/>
<rect x="451.86" y="58.96" width="3.08" height="3.08" fill="#be4b48" stroke="#8c3836" stroke-width="0.7"/>
<text x="465.00" y="63.70" font-size="9.8" textLength="37.90" lengthAdjust="spacingAndGlyphs">OCT2-WT</text>
<line x1="443.00" y1="77.80" x2="463.80" y2="77.80" stroke="#98b954" stroke-width="1.9"/>
<path d="M453.40,75.98L455.22,79.26L451.58,79.26Z" fill="#98b954" stroke="#71893f" stroke-width="0.7"/>
<text x="465.00" y="81.00" font-size="9.8" textLength="54.40" lengthAdjust="spacingAndGlyphs">OCT2-282R/H</text>
<line x1="443.00" y1="95.00" x2="463.80" y2="95.00" stroke="#7d60a0" stroke-width="1.9"/>
<path d="M451.93,93.53L454.87,96.47M454.87,93.53L451.93,96.47" stroke="#5c4776" stroke-width="1.5"/>
<text x="465.00" y="98.20" font-size="9.8" textLength="47.90" lengthAdjust="spacingAndGlyphs">OCT2-fs325I</text>
<line x1="441.40" y1="224.70" x2="461.10" y2="224.70" stroke="#4a7ebb" stroke-width="1.9"/>
<path d="M451.25,222.88L453.07,224.70L451.25,226.52L449.43,224.70Z" fill="#4a7ebb" stroke="#385d8a" stroke-width="0.7"/>
<text x="462.80" y="227.90" font-size="9.8" textLength="15.60" lengthAdjust="spacingAndGlyphs">FG9</text>
<line x1="441.40" y1="238.50" x2="461.10" y2="238.50" stroke="#be4b48" stroke-width="1.9"/>
<rect x="449.71" y="236.96" width="3.08" height="3.08" fill="#be4b48" stroke="#8c3836" stroke-width="0.7"/>
<text x="462.80" y="241.70" font-size="9.8" textLength="37.90" lengthAdjust="spacingAndGlyphs">OCT2-WT</text>
<line x1="441.40" y1="251.90" x2="461.10" y2="251.90" stroke="#98b954" stroke-width="1.9"/>
<path d="M451.25,250.08L453.07,253.36L449.43,253.36Z" fill="#98b954" stroke="#71893f" stroke-width="0.7"/>
<text x="462.80" y="255.10" font-size="9.8" textLength="54.40" lengthAdjust="spacingAndGlyphs">OCT2-282R/H</text>
<line x1="441.40" y1="265.50" x2="461.10" y2="265.50" stroke="#7d60a0" stroke-width="1.9"/>
<path d="M449.78,264.03L452.72,266.97M452.72,264.03L449.78,266.97" stroke="#5c4776" stroke-width="1.5"/>
<text x="462.80" y="268.70" font-size="9.8" textLength="47.90" lengthAdjust="spacingAndGlyphs">OCT2-fs325I</text>
<line x1="444.70" y1="355.60" x2="464.80" y2="355.60" stroke="#4a7ebb" stroke-width="1.9"/>
<path d="M454.75,353.78L456.57,355.60L454.75,357.42L452.93,355.60Z" fill="#4a7ebb" stroke="#385d8a" stroke-width="0.7"/>
<text x="466.40" y="358.80" font-size="9.8" textLength="15.60" lengthAdjust="spacingAndGlyphs">FG9</text>
<line x1="444.70" y1="373.00" x2="464.80" y2="373.00" stroke="#be4b48" stroke-width="1.9"/>
<rect x="453.21" y="371.46" width="3.08" height="3.08" fill="#be4b48" stroke="#8c3836" stroke-width="0.7"/>
<text x="466.40" y="376.20" font-size="9.8" textLength="37.90" lengthAdjust="spacingAndGlyphs">OCT2-WT</text>
<line x1="444.70" y1="390.50" x2="464.80" y2="390.50" stroke="#98b954" stroke-width="1.9"/>
<path d="M454.75,388.68L456.57,391.96L452.93,391.96Z" fill="#98b954" stroke="#71893f" stroke-width="0.7"/>
<text x="466.40" y="393.70" font-size="9.8" textLength="54.40" lengthAdjust="spacingAndGlyphs">OCT2-282R/H</text>
<line x1="444.70" y1="407.90" x2="464.80" y2="407.90" stroke="#7d60a0" stroke-width="1.9"/>
<path d="M453.28,406.43L456.22,409.37M456.22,406.43L453.28,409.37" stroke="#5c4776" stroke-width="1.5"/>
<text x="466.40" y="411.10" font-size="9.8" textLength="47.90" lengthAdjust="spacingAndGlyphs">OCT2-fs325I</text>
</svg>
</body></html>
